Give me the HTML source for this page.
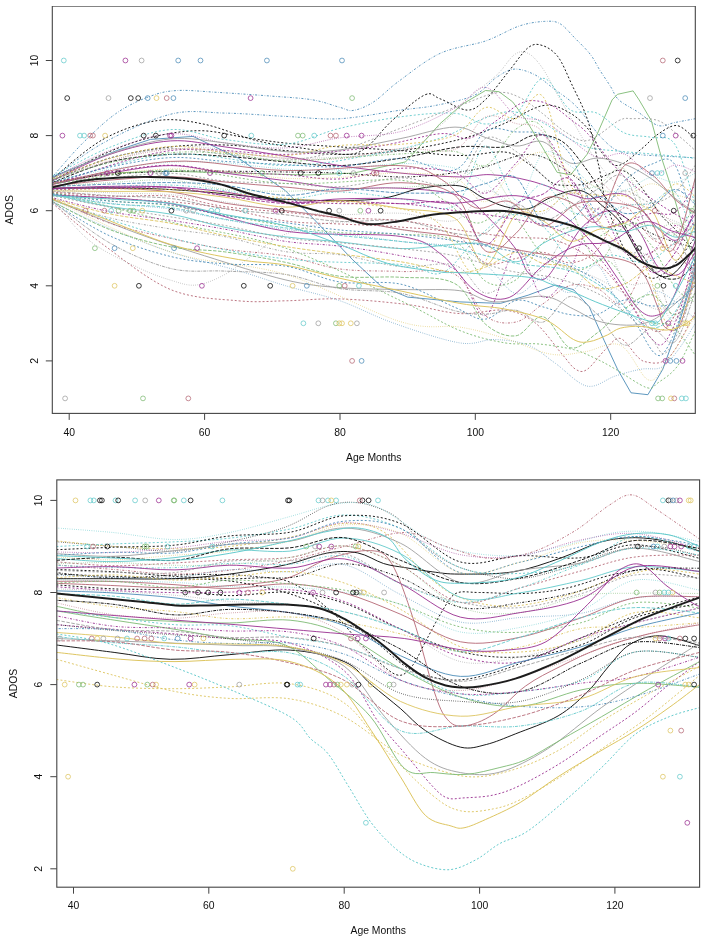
<!DOCTYPE html><html><head><meta charset="utf-8"><style>html,body{margin:0;padding:0;background:#fff;}svg{display:block}.t{font-family:"Liberation Sans",sans-serif;font-size:10.4px;fill:#111}</style></head><body>
<svg width="706" height="941" viewBox="0 0 706 941">
<rect width="706" height="941" fill="#fff"/>
<filter id="bl" x="0" y="0" width="1" height="1"><feGaussianBlur stdDeviation="0.5"/></filter>
<g filter="url(#bl)">
<clipPath id="c1"><rect x="52.3" y="6.1" width="643.0" height="407.3"/></clipPath>
<g clip-path="url(#c1)" fill="none" stroke-linecap="butt" stroke-linejoin="round">
<path d="M52.3 176.9C57.4 171.3 72.0 153.7 82.7 143.1C93.5 132.5 105.3 120.9 116.6 113.1C127.9 105.2 140.3 99.9 150.4 96.2C160.6 92.4 166.2 91.2 177.5 90.5C188.8 89.9 202.3 91.5 218.1 92.4C233.9 93.4 256.5 94.9 272.3 96.2C288.1 97.4 301.6 98.0 312.9 99.9C324.2 101.8 333.2 105.7 340.0 107.4C346.7 109.2 347.9 111.4 353.5 110.4C359.1 109.5 366.2 106.7 373.8 101.8C381.4 96.9 387.8 89.2 398.9 81.2C409.9 73.1 425.7 60.1 440.1 53.4C454.6 46.7 472.3 45.5 485.5 41.0C498.7 36.4 509.5 29.2 519.3 26.0C529.2 22.7 537.6 21.8 544.4 21.4C551.2 21.1 554.8 20.8 560.0 23.7C565.1 26.6 570.4 33.6 575.5 38.7C580.6 43.9 586.4 49.2 590.4 54.5C594.5 59.7 596.5 64.9 599.9 70.3C603.3 75.6 607.6 81.8 610.7 86.8C613.9 91.7 614.3 95.7 618.8 99.9C623.4 104.1 631.3 107.7 637.8 111.9C644.3 116.2 651.9 123.7 658.1 125.5C664.3 127.2 668.8 123.6 675.0 122.5C681.2 121.3 691.9 119.3 695.3 118.7" stroke="#4b8bb7" stroke-width="0.90" stroke-dasharray="0.6,1.6,2,1.6"/>
<path d="M52.3 178.8C60.7 172.8 83.3 153.9 103.0 143.1C122.8 132.3 150.4 119.2 170.7 114.2C191.0 109.2 205.7 112.7 224.9 113.1C244.1 113.4 266.6 115.5 285.8 116.4C305.0 117.4 320.8 119.8 340.0 118.7C359.1 117.6 385.1 112.3 400.9 110.1C416.7 107.9 422.5 108.0 434.7 105.6C446.9 103.1 463.6 100.2 474.0 95.4C484.4 90.7 490.2 81.4 497.0 77.0C503.8 72.6 508.3 69.5 514.6 69.1C520.9 68.8 528.5 71.6 534.9 74.8C541.3 78.0 546.3 83.0 553.2 88.3C560.1 93.5 568.4 98.4 576.2 106.3C584.0 114.3 593.0 128.6 599.9 136.0C606.8 143.4 611.2 147.6 617.5 150.6C623.8 153.7 631.0 153.5 637.8 154.4C644.6 155.3 648.5 155.3 658.1 155.9C667.7 156.4 689.1 157.4 695.3 157.8" stroke="#4b8bb7" stroke-width="0.90" stroke-dasharray="0.6,1.6,2,1.6"/>
<path d="M52.3 178.8C60.7 172.2 85.6 149.1 103.0 139.4C120.5 129.7 140.3 123.1 157.2 120.6C174.1 118.1 187.7 120.9 204.6 124.3C221.5 127.8 241.8 137.2 258.7 141.2C275.7 145.3 291.4 146.6 306.1 148.7C320.8 150.9 336.6 154.7 346.7 154.4C356.9 154.1 359.6 152.4 367.0 146.9C374.5 141.4 381.8 130.0 391.4 121.3C401.0 112.7 416.4 98.8 424.6 95.0C432.7 91.3 433.0 96.3 440.1 98.8C447.2 101.3 459.7 109.9 467.2 110.1C474.8 110.2 478.7 105.8 485.5 99.6C492.3 93.3 500.7 81.2 507.8 72.5C514.9 63.9 522.4 52.2 528.1 47.7C533.9 43.2 537.4 44.0 542.4 45.5C547.3 47.0 553.1 50.4 557.9 56.7C562.8 63.1 566.5 73.2 571.5 83.8C576.4 94.4 583.1 106.2 587.7 120.2C592.3 134.2 596.3 154.7 599.2 167.9C602.1 181.1 601.8 187.3 605.3 199.4C608.8 211.6 615.3 230.1 620.2 240.7C625.0 251.4 629.2 257.0 634.4 263.3C639.6 269.5 645.1 277.7 651.3 278.3C657.5 278.9 664.3 273.9 671.6 267.0C679.0 260.1 691.4 242.0 695.3 237.0" stroke="#000000" stroke-width="0.90" stroke-dasharray="2,2"/>
<path d="M52.3 180.7C61.9 176.9 90.1 163.8 109.8 158.1C129.6 152.5 151.6 149.1 170.7 146.9C189.9 144.7 205.7 144.4 224.9 145.0C244.1 145.6 266.6 149.1 285.8 150.6C305.0 152.2 320.8 154.4 340.0 154.4C359.1 154.4 380.9 153.1 400.9 150.6C420.8 148.1 442.8 143.7 459.8 139.4C476.7 135.0 488.5 130.0 502.4 124.3C516.3 118.7 531.7 107.4 543.0 105.6C554.3 103.7 562.2 108.7 570.1 113.1C578.0 117.5 585.3 125.5 590.4 131.8C595.5 138.2 596.1 145.4 600.6 151.0C605.1 156.6 610.7 166.0 617.5 165.6C624.3 165.3 634.4 154.4 641.2 149.1C647.9 143.9 652.2 138.0 658.1 134.1C664.0 130.2 670.7 125.2 676.4 125.5C682.0 125.7 688.8 133.6 691.9 135.6C695.1 137.6 694.8 137.2 695.3 137.5" stroke="#000000" stroke-width="0.90" stroke-dasharray="2,2"/>
<path d="M52.3 180.7C60.7 176.3 86.7 161.6 103.0 154.4C119.4 147.2 134.3 141.4 150.4 137.5C166.6 133.5 184.0 130.7 199.8 130.7C215.6 130.7 230.9 135.4 245.2 137.5C259.5 139.5 270.0 141.5 285.8 143.1C301.6 144.7 320.8 145.6 340.0 146.9C359.1 148.1 380.9 149.2 400.9 150.6C420.8 152.1 442.4 155.3 459.8 155.5C477.1 155.8 493.7 150.8 505.1 152.1C516.5 153.4 520.6 158.4 528.1 163.4C535.7 168.3 544.8 178.2 550.5 181.8C556.1 185.4 556.3 184.8 562.0 185.2C567.6 185.5 576.8 185.8 584.3 184.0C591.9 182.3 601.4 177.0 607.3 174.7C613.3 172.3 616.0 169.8 620.2 170.1C624.4 170.5 628.1 172.6 632.4 176.5C636.7 180.4 641.1 186.9 645.9 193.4C650.8 199.9 656.6 209.6 661.5 215.6C666.3 221.5 671.1 224.8 675.0 229.1C679.0 233.4 681.8 237.3 685.2 241.1C688.6 244.9 693.6 250.2 695.3 252.0" stroke="#000000" stroke-width="0.90" stroke-dasharray="2,2"/>
<path d="M52.3 182.5C61.9 179.1 90.1 166.6 109.8 161.9C129.6 157.2 151.6 155.3 170.7 154.4C189.9 153.4 205.7 155.0 224.9 156.3C244.1 157.5 266.6 160.3 285.8 161.9C305.0 163.4 320.8 166.3 340.0 165.6C359.1 165.0 380.9 161.3 400.9 158.1C420.8 155.0 442.4 148.7 459.8 146.9C477.1 145.0 493.3 148.7 505.1 146.9C517.0 145.1 523.5 137.8 530.8 136.0C538.2 134.2 543.1 134.5 549.1 136.0C555.1 137.5 560.4 139.3 566.7 145.0C573.0 150.7 581.4 162.6 587.0 170.1C592.7 177.7 595.0 182.5 600.6 190.4C606.1 198.4 614.0 208.2 620.2 217.8C626.4 227.5 631.5 238.8 637.8 248.2C644.1 257.7 651.3 269.5 658.1 274.5C664.9 279.5 672.2 280.2 678.4 278.3C684.6 276.4 692.5 265.8 695.3 263.3" stroke="#000000" stroke-width="0.90" stroke-dasharray="3.5,1.5"/>
<path d="M52.3 184.4L103.0 173.1L170.7 171.3L238.4 173.1L306.1 175.0L353.5 173.1L405.6 161.9L440.1 123.6L462.5 104.1L485.5 90.5L499.0 91.7L512.6 101.8L526.1 120.2L542.4 147.2L557.2 172.4L570.8 174.7L587.0 154.4L597.2 134.1L612.1 99.9L617.5 94.3L633.1 90.9L639.1 99.9L651.3 120.6L661.5 157.8L671.6 188.5L680.4 219.0L688.6 244.5L695.3 263.3" stroke="#7dba73" stroke-width="0.90"/>
<path d="M52.3 176.9L116.6 150.6L150.4 139.4L193.1 136.4L238.4 158.1L285.1 190.4L312.9 218.2L352.8 259.9L380.6 285.8L407.6 297.1L459.8 301.9L500.4 303.4L528.1 295.2L555.2 285.0L573.5 289.6L589.1 306.5L604.0 340.2L617.5 369.2L631.0 392.8L647.9 394.7L662.8 369.2L676.4 331.6L688.6 292.6L695.3 267.0" stroke="#4b8bb7" stroke-width="0.90"/>
<path d="M52.3 199.4C66.4 205.1 111.5 223.8 136.9 233.2C162.3 242.6 179.9 248.0 204.6 255.8C229.3 263.5 262.6 274.5 285.1 279.8C307.7 285.1 319.5 286.1 340.0 287.7C360.4 289.3 387.7 289.1 407.6 289.6C427.6 290.1 445.3 288.6 459.8 290.7C474.2 292.7 480.3 301.0 494.3 301.9C508.3 302.9 530.5 295.1 543.7 296.3C556.9 297.5 564.8 305.1 573.5 309.1C582.2 313.1 588.0 317.7 595.8 320.3C603.6 323.0 612.1 324.4 620.2 324.9C628.3 325.4 637.1 325.5 644.6 323.3C652.0 321.2 656.4 318.3 664.9 312.1C673.3 305.8 690.3 290.2 695.3 285.8" stroke="#9e9e9e" stroke-width="0.90"/>
<path d="M52.3 203.2C60.7 210.1 83.3 230.1 103.0 244.5C122.8 258.9 148.2 280.2 170.7 289.6C193.3 298.9 219.2 298.9 238.4 300.8C257.6 302.7 268.9 301.1 285.8 300.8C302.7 300.5 319.7 298.3 340.0 298.9C360.3 299.6 387.7 302.1 407.6 304.6C427.6 307.0 443.5 312.6 459.8 313.6C476.0 314.5 492.6 308.7 505.1 310.2C517.6 311.7 525.4 315.3 534.9 322.6C544.4 329.9 555.2 346.4 562.0 354.1C568.8 361.9 571.3 366.6 575.5 369.2C579.7 371.7 582.1 372.8 587.0 369.5C592.0 366.3 599.8 354.8 605.3 349.6C610.8 344.4 614.8 337.1 620.2 338.4C625.6 339.6 633.4 353.2 637.8 357.1C642.2 361.1 642.6 361.2 646.6 362.0C650.5 362.8 656.7 364.1 661.5 362.0C666.2 360.0 669.4 358.0 675.0 349.6C680.7 341.3 691.9 318.3 695.3 312.1" stroke="#b46774" stroke-width="0.90" stroke-dasharray="2,2"/>
<path d="M52.3 191.9C72.0 196.9 131.8 212.6 170.7 222.0C209.7 231.4 247.5 235.1 285.8 248.2C324.2 261.4 371.9 287.1 400.9 300.8C429.9 314.5 442.4 323.5 459.8 330.5C477.1 337.5 491.9 340.6 505.1 342.9C518.3 345.1 527.6 342.9 539.0 344.0C550.4 345.1 564.0 347.2 573.5 349.6C583.0 352.1 588.8 355.4 595.8 358.6C602.8 361.9 607.0 364.3 615.5 369.2C623.9 374.0 639.5 385.3 646.6 387.6C653.7 389.8 652.9 386.3 658.1 382.7C663.3 379.0 671.5 374.4 677.7 365.8C683.9 357.1 692.4 336.7 695.3 330.9" stroke="#7dba73" stroke-width="0.90" stroke-dasharray="2,2"/>
<path d="M52.3 201.3C60.7 205.4 83.3 217.3 103.0 225.7C122.8 234.2 148.2 244.5 170.7 252.0C193.3 259.5 219.2 265.1 238.4 270.8C257.6 276.4 268.9 280.8 285.8 285.8C302.7 290.8 321.9 294.6 340.0 300.8C358.0 307.1 374.1 316.3 394.1 323.3C414.1 330.4 443.1 340.2 459.8 342.9C476.5 345.6 482.9 339.1 494.3 339.5C505.7 339.9 518.0 341.2 528.1 345.1C538.3 349.1 545.4 356.3 555.2 363.2C565.0 370.0 577.0 383.9 587.0 386.1C597.1 388.2 606.4 378.7 615.5 375.9C624.5 373.1 633.5 370.6 641.2 369.2C648.9 367.7 655.3 370.5 661.5 367.3C667.7 364.0 672.8 357.0 678.4 349.6C684.1 342.3 692.5 327.7 695.3 323.3" stroke="#4b8bb7" stroke-width="0.90" stroke-dasharray="0.6,1.6"/>
<path d="M52.3 199.4C72.0 208.2 131.8 239.5 170.7 252.0C209.7 264.5 247.5 262.9 285.8 274.5C324.2 286.2 371.9 313.1 400.9 321.8C429.9 330.6 442.4 324.4 459.8 327.1C477.1 329.9 490.0 333.9 505.1 338.4C520.2 342.9 537.3 351.9 550.5 354.1C563.7 356.4 572.7 353.4 584.3 351.9C595.9 350.4 609.6 340.5 620.2 345.1C630.8 349.8 640.5 376.4 647.9 379.7C655.4 382.9 657.0 375.3 664.9 364.7C672.8 354.0 690.3 324.0 695.3 315.8" stroke="#ddc45f" stroke-width="0.90" stroke-dasharray="0.6,1.6"/>
<path d="M52.3 184.4C61.9 182.5 90.1 176.3 109.8 173.1C129.6 170.0 151.6 165.6 170.7 165.6C189.9 165.6 205.7 170.6 224.9 173.1C244.1 175.7 266.6 178.2 285.8 180.7C305.0 183.2 320.8 186.9 340.0 188.2C359.1 189.4 380.9 186.9 400.9 188.2C420.8 189.4 445.1 190.7 459.8 195.7C474.4 200.7 479.4 209.1 488.9 218.2C498.4 227.3 510.1 241.1 516.6 250.1C523.2 259.2 523.6 267.8 528.1 272.7C532.7 277.5 538.9 280.9 543.7 279.4C548.6 277.9 553.4 268.5 557.2 263.6C561.1 258.8 562.3 256.4 566.7 250.1C571.1 243.8 576.3 232.3 583.6 225.7C591.0 219.1 601.7 210.1 610.7 210.7C619.7 211.3 629.9 220.1 637.8 229.5C645.7 238.9 651.3 259.5 658.1 267.0C664.9 274.5 672.2 277.0 678.4 274.5C684.6 272.0 692.5 255.8 695.3 252.0" stroke="#992e90" stroke-width="0.90"/>
<path d="M52.3 180.7C61.9 176.3 90.1 161.0 109.8 154.4C129.6 147.7 151.6 142.1 170.7 140.9C189.9 139.6 205.7 144.3 224.9 146.9C244.1 149.4 266.6 153.1 285.8 156.3C305.0 159.4 320.8 162.8 340.0 165.6C359.1 168.5 380.9 171.3 400.9 173.1C420.8 175.0 444.8 176.7 459.8 176.9C474.8 177.2 479.3 174.0 490.9 174.7C502.5 175.3 515.7 177.2 529.5 180.7C543.3 184.1 563.3 192.3 573.5 195.3C583.6 198.3 583.4 199.0 590.4 198.7C597.4 198.4 608.5 193.4 615.5 193.4C622.5 193.4 626.7 194.4 632.4 198.7C638.0 202.9 643.7 212.8 649.3 219.0C654.9 225.2 661.4 232.5 666.2 235.9C671.1 239.2 674.1 242.1 678.4 239.2C682.7 236.4 689.1 223.1 691.9 219.0C694.8 214.8 694.8 215.2 695.3 214.5" stroke="#992e90" stroke-width="0.90"/>
<path d="M52.3 188.2C61.9 188.2 90.1 187.5 109.8 188.2C129.6 188.8 151.6 189.4 170.7 191.9C189.9 194.4 205.7 200.1 224.9 203.2C244.1 206.3 266.6 208.2 285.8 210.7C305.0 213.2 320.8 215.1 340.0 218.2C359.1 221.3 380.9 226.3 400.9 229.5C420.8 232.6 441.7 233.9 459.8 237.0C477.8 240.1 493.1 245.1 509.2 248.2C525.3 251.4 541.9 254.5 556.6 255.8C571.2 257.0 583.6 253.9 597.2 255.8C610.7 257.6 627.8 258.6 637.8 267.0C647.8 275.4 653.0 296.2 657.4 306.1C661.8 316.0 660.8 322.7 664.2 326.4C667.6 330.0 673.8 332.5 677.7 328.2C681.7 324.0 685.0 310.4 687.9 300.8C690.8 291.2 694.1 275.8 695.3 270.8" stroke="#b46774" stroke-width="0.90"/>
<path d="M52.3 180.7C61.9 176.9 90.1 163.4 109.8 158.1C129.6 152.8 151.6 149.4 170.7 148.7C189.9 148.1 205.7 152.5 224.9 154.4C244.1 156.3 266.6 160.6 285.8 160.0C305.0 159.4 320.8 155.9 340.0 150.6C359.1 145.3 380.9 135.6 400.9 128.1C420.8 120.6 443.8 111.4 459.8 105.6C475.8 99.7 487.1 94.2 497.0 92.8C506.9 91.4 511.8 93.9 519.3 97.3C526.9 100.7 534.8 107.8 542.4 113.4C549.9 119.1 557.1 127.0 564.7 131.5C572.2 136.0 578.7 142.3 587.7 140.5C596.7 138.7 611.4 124.2 618.8 120.6C626.3 117.0 625.8 118.7 632.4 118.7C638.9 118.7 650.4 117.8 658.1 120.6C665.8 123.4 672.2 130.6 678.4 135.6C684.6 140.6 692.5 148.1 695.3 150.6" stroke="#9e9e9e" stroke-width="0.90" stroke-dasharray="2,2"/>
<path d="M52.3 180.7C72.0 175.0 131.8 150.6 170.7 146.9C209.7 143.1 247.5 157.5 285.8 158.1C324.2 158.8 374.9 156.3 400.9 150.6C426.8 145.0 430.2 133.1 441.5 124.3C452.8 115.6 459.3 106.3 468.6 98.1C477.8 89.8 489.3 82.0 497.0 74.8C504.7 67.5 509.4 58.1 514.6 54.5C519.8 50.9 523.5 51.1 528.1 53.4C532.8 55.6 537.4 61.0 542.4 68.0C547.3 75.0 552.3 85.6 557.9 95.4C563.6 105.2 569.7 115.9 576.2 127.0C582.7 138.0 589.2 151.1 597.2 161.9C605.2 172.7 615.2 183.8 624.3 191.9C633.3 200.1 639.5 204.4 651.3 210.7C663.2 217.0 688.0 226.3 695.3 229.5" stroke="#9e9e9e" stroke-width="0.90" stroke-dasharray="0.6,1.6"/>
<path d="M52.3 182.5C72.0 177.8 131.8 157.2 170.7 154.4C209.7 151.6 252.0 165.6 285.8 165.6C319.7 165.6 348.1 158.9 373.8 154.4C399.5 149.8 423.4 143.5 440.1 138.2C456.8 132.9 463.4 126.8 474.0 122.5C484.6 118.1 495.9 113.8 503.8 112.3C511.7 110.8 514.9 111.8 521.4 113.4C527.8 115.1 535.1 118.7 542.4 122.5C549.6 126.2 557.1 131.8 564.7 136.0C572.2 140.1 579.0 144.7 587.7 147.2C596.4 149.7 604.6 149.7 616.8 151.0C629.0 152.2 647.4 153.5 660.8 154.8C674.2 156.0 691.3 157.9 697.4 158.5" stroke="#63c9cb" stroke-width="0.90" stroke-dasharray="2,2"/>
<path d="M52.3 184.4C72.0 178.8 131.8 155.6 170.7 150.6C209.7 145.6 252.0 155.0 285.8 154.4C319.7 153.7 348.1 150.3 373.8 146.9C399.5 143.4 424.2 135.2 440.1 133.7C456.0 132.3 459.8 140.5 469.2 138.2C478.7 136.0 488.7 125.9 497.0 120.2C505.3 114.5 513.0 107.3 519.3 104.1C525.7 100.8 529.3 100.3 534.9 100.7C540.5 101.1 547.1 103.1 553.2 106.3C559.3 109.6 565.7 115.6 571.5 120.2C577.2 124.8 578.9 124.3 587.7 133.7C596.5 143.1 612.5 165.0 624.3 176.5C636.0 188.1 646.3 195.0 658.1 203.2C669.9 211.4 689.1 222.0 695.3 225.7" stroke="#992e90" stroke-width="0.90" stroke-dasharray="2,2"/>
<path d="M52.3 182.5C60.7 181.3 83.3 176.9 103.0 175.0C122.8 173.1 148.2 171.9 170.7 171.3C193.3 170.6 219.2 171.1 238.4 171.3C257.6 171.4 268.9 171.7 285.8 172.0C302.7 172.3 319.7 172.3 340.0 173.1C360.3 174.0 385.1 177.5 407.6 176.9C430.2 176.3 455.0 173.2 475.3 169.4C495.6 165.6 513.7 153.7 529.5 154.4C545.3 155.0 556.6 164.4 570.1 173.1C583.6 181.9 597.2 196.9 610.7 206.9C624.3 217.0 637.2 226.3 651.3 233.2C665.4 240.1 688.0 245.7 695.3 248.2" stroke="#000000" stroke-width="0.90" stroke-dasharray="0.6,1.6,2,1.6"/>
<path d="M52.3 188.2C66.4 188.2 111.5 187.5 136.9 188.2C162.3 188.8 179.8 190.0 204.6 191.9C229.4 193.8 257.6 198.2 285.8 199.4C314.0 200.7 351.2 201.3 373.8 199.4C396.4 197.6 406.9 190.4 421.2 188.2C435.5 185.9 449.5 184.4 459.8 185.9C470.0 187.5 475.2 194.1 482.8 197.6C490.3 201.0 497.6 204.7 505.1 206.6C512.7 208.4 520.6 210.3 528.1 208.8C535.7 207.3 542.9 200.6 550.5 197.6C558.0 194.5 567.4 191.2 573.5 190.4C579.6 189.7 582.5 190.7 587.0 193.1C591.5 195.4 595.0 199.4 600.6 204.3C606.1 209.2 613.7 213.7 620.2 222.3C626.7 231.0 635.1 248.6 639.8 256.1C644.6 263.6 644.9 264.0 648.6 267.4C652.3 270.8 657.7 275.7 662.2 276.4C666.7 277.2 670.2 276.8 675.7 271.9C681.2 267.0 692.1 251.3 695.3 247.1" stroke="#000000" stroke-width="0.90"/>
<path d="M52.3 199.4C58.5 206.3 75.4 229.5 89.5 240.7C103.6 252.0 123.4 260.5 136.9 267.0C150.4 273.6 160.8 277.2 170.7 280.2C180.7 283.2 187.4 286.0 196.5 285.0C205.5 284.1 215.6 279.4 224.9 274.5C234.1 269.7 241.8 262.5 252.0 255.8C262.1 249.0 271.1 239.6 285.8 234.0C300.5 228.3 320.8 222.7 340.0 222.0C359.1 221.2 381.7 226.3 400.9 229.5C420.1 232.6 437.0 237.6 455.0 240.7C473.1 243.9 492.3 244.5 509.2 248.2C526.1 252.0 541.9 258.3 556.6 263.3C571.2 268.3 583.6 272.0 597.2 278.3C610.7 284.5 626.5 295.8 637.8 300.8C649.1 305.8 655.3 312.1 664.9 308.3C674.5 304.6 690.3 283.3 695.3 278.3" stroke="#9e9e9e" stroke-width="0.90" stroke-dasharray="0.6,1.6"/>
<path d="M52.3 176.3C61.9 171.5 90.1 155.1 109.8 147.3C129.6 139.6 151.6 130.9 170.7 129.6C189.9 128.3 205.7 137.1 224.9 139.5C244.1 142.0 266.6 146.1 285.8 144.2C305.0 142.4 320.8 132.8 340.0 128.3C359.1 123.7 381.7 119.3 400.9 116.8C420.1 114.3 440.9 112.1 455.0 113.3C469.1 114.5 475.3 123.9 485.5 124.0C495.6 124.1 506.4 121.4 516.0 113.8C525.5 106.1 534.0 78.9 543.0 78.3C552.1 77.6 561.1 103.9 570.1 109.7C579.1 115.5 588.2 109.3 597.2 113.2C606.2 117.1 615.2 128.9 624.3 132.9C633.3 136.9 642.9 135.4 651.3 137.4C659.8 139.3 667.7 133.3 675.0 144.6C682.4 155.9 691.9 195.0 695.3 205.1" stroke="#63c9cb" stroke-width="0.90" stroke-dasharray="2,2"/>
<path d="M52.3 177.8C61.9 173.3 90.1 157.9 109.8 150.5C129.6 143.2 151.6 135.1 170.7 133.8C189.9 132.5 205.7 140.6 224.9 142.9C244.1 145.3 266.6 148.8 285.8 147.9C305.0 147.0 320.8 140.5 340.0 137.8C359.1 135.1 381.7 136.5 400.9 131.5C420.1 126.6 440.9 115.5 455.0 108.1C469.1 100.8 475.3 86.2 485.5 87.4C495.6 88.6 506.4 109.7 516.0 115.3C525.5 121.0 534.0 117.2 543.0 121.2C552.1 125.2 561.1 133.3 570.1 139.2C579.1 145.2 588.2 154.6 597.2 157.1C606.2 159.6 615.2 151.1 624.3 154.1C633.3 157.1 642.9 173.2 651.3 175.0C659.8 176.8 667.7 165.6 675.0 165.1C682.4 164.6 691.9 170.8 695.3 171.9" stroke="#992e90" stroke-width="0.90" stroke-dasharray="0.6,1.6"/>
<path d="M52.3 178.2C61.9 174.1 90.1 160.3 109.8 153.8C129.6 147.2 151.6 140.7 170.7 138.9C189.9 137.0 205.7 140.8 224.9 142.9C244.1 145.0 266.6 150.5 285.8 151.7C305.0 152.8 320.8 152.1 340.0 149.9C359.1 147.7 381.7 142.3 400.9 138.5C420.1 134.7 440.9 127.2 455.0 127.1C469.1 126.9 475.3 134.4 485.5 137.5C495.6 140.7 506.4 145.3 516.0 146.0C525.5 146.7 534.0 138.9 543.0 141.7C552.1 144.6 561.1 160.3 570.1 163.0C579.1 165.8 588.2 158.0 597.2 158.1C606.2 158.3 615.2 160.6 624.3 164.1C633.3 167.5 642.9 173.0 651.3 178.7C659.8 184.4 667.7 192.5 675.0 198.2C682.4 203.9 691.9 210.3 695.3 212.7" stroke="#9e9e9e" stroke-width="0.90"/>
<path d="M52.3 178.6C61.9 175.3 90.1 164.0 109.8 158.7C129.6 153.3 151.6 147.5 170.7 146.5C189.9 145.4 205.7 151.0 224.9 152.5C244.1 154.1 266.6 156.8 285.8 155.6C305.0 154.4 320.8 147.4 340.0 145.5C359.1 143.6 381.7 146.0 400.9 144.3C420.1 142.5 440.9 141.2 455.0 135.1C469.1 129.0 475.3 110.2 485.5 107.5C495.6 104.8 506.4 120.6 516.0 118.7C525.5 116.9 534.0 85.6 543.0 96.6C552.1 107.6 561.1 168.3 570.1 184.7C579.1 201.1 588.2 193.2 597.2 195.0C606.2 196.9 615.2 193.8 624.3 195.9C633.3 197.9 642.9 209.3 651.3 207.3C659.8 205.3 667.7 185.8 675.0 184.0C682.4 182.2 691.9 194.5 695.3 196.6" stroke="#ddc45f" stroke-width="0.90" stroke-dasharray="2,2"/>
<path d="M52.3 179.6C61.9 176.5 90.1 165.8 109.8 160.8C129.6 155.7 151.6 150.7 170.7 149.2C189.9 147.7 205.7 150.3 224.9 151.8C244.1 153.4 266.6 157.2 285.8 158.3C305.0 159.5 320.8 160.3 340.0 158.6C359.1 157.0 381.7 150.0 400.9 148.5C420.1 146.9 440.9 154.5 455.0 149.3C469.1 144.1 475.3 121.3 485.5 117.0C495.6 112.7 506.4 120.9 516.0 123.5C525.5 126.1 534.0 121.2 543.0 132.6C552.1 144.0 561.1 183.7 570.1 191.7C579.1 199.8 588.2 179.3 597.2 181.1C606.2 183.0 615.2 198.8 624.3 202.9C633.3 207.0 642.9 201.9 651.3 205.6C659.8 209.4 667.7 219.4 675.0 225.4C682.4 231.5 691.9 239.1 695.3 241.8" stroke="#b46774" stroke-width="0.90" stroke-dasharray="0.6,1.6"/>
<path d="M52.3 179.3C61.9 176.5 90.1 167.2 109.8 162.8C129.6 158.4 151.6 154.2 170.7 152.7C189.9 151.1 205.7 152.1 224.9 153.5C244.1 154.9 266.6 160.3 285.8 161.0C305.0 161.7 320.8 159.0 340.0 157.9C359.1 156.7 381.7 155.0 400.9 153.9C420.1 152.9 440.9 149.6 455.0 151.5C469.1 153.5 475.3 169.5 485.5 165.7C495.6 162.0 506.4 135.3 516.0 129.1C525.5 122.8 534.0 115.8 543.0 128.4C552.1 141.0 561.1 182.5 570.1 204.5C579.1 226.5 588.2 256.7 597.2 260.3C606.2 263.9 615.2 231.9 624.3 226.2C633.3 220.5 642.9 224.6 651.3 226.0C659.8 227.4 667.7 238.3 675.0 234.6C682.4 230.9 691.9 209.1 695.3 204.0" stroke="#7dba73" stroke-width="0.90" stroke-dasharray="0.6,1.6,2,1.6"/>
<path d="M52.3 182.7C61.9 180.1 90.1 171.3 109.8 167.1C129.6 163.0 151.6 158.6 170.7 157.6C189.9 156.7 205.7 160.2 224.9 161.4C244.1 162.6 266.6 163.7 285.8 164.6C305.0 165.5 320.8 167.6 340.0 166.6C359.1 165.7 381.7 158.2 400.9 158.7C420.1 159.2 440.9 174.4 455.0 169.8C469.1 165.2 475.3 137.5 485.5 131.2C495.6 124.8 506.4 131.3 516.0 131.9C525.5 132.4 534.0 130.8 543.0 134.5C552.1 138.2 561.1 141.3 570.1 154.3C579.1 167.4 588.2 208.5 597.2 212.9C606.2 217.3 615.2 189.0 624.3 180.9C633.3 172.8 642.9 167.0 651.3 164.3C659.8 161.7 667.7 153.4 675.0 164.8C682.4 176.3 691.9 221.7 695.3 233.0" stroke="#4b8bb7" stroke-width="0.90" stroke-dasharray="2,2"/>
<path d="M52.3 181.2C61.9 179.2 90.1 172.6 109.8 169.4C129.6 166.3 151.6 163.3 170.7 162.2C189.9 161.1 205.7 161.8 224.9 162.9C244.1 164.1 266.6 168.0 285.8 169.1C305.0 170.3 320.8 170.6 340.0 169.6C359.1 168.7 381.7 163.7 400.9 163.5C420.1 163.3 440.9 165.0 455.0 168.2C469.1 171.5 475.3 176.6 485.5 182.9C495.6 189.3 506.4 211.2 516.0 206.3C525.5 201.3 534.0 160.0 543.0 153.3C552.1 146.5 561.1 159.9 570.1 165.8C579.1 171.6 588.2 184.4 597.2 188.5C606.2 192.6 615.2 192.1 624.3 190.3C633.3 188.4 642.9 178.7 651.3 177.3C659.8 176.0 667.7 182.9 675.0 182.2C682.4 181.4 691.9 174.6 695.3 173.0" stroke="#63c9cb" stroke-width="0.90" stroke-dasharray="0.6,1.6"/>
<path d="M52.3 182.8C61.9 180.9 90.1 174.8 109.8 171.9C129.6 169.0 151.6 165.2 170.7 165.2C189.9 165.2 205.7 170.1 224.9 171.7C244.1 173.3 266.6 173.5 285.8 174.7C305.0 175.9 320.8 180.0 340.0 178.9C359.1 177.9 381.7 169.3 400.9 168.3C420.1 167.3 440.9 168.8 455.0 172.9C469.1 177.1 475.3 194.8 485.5 193.2C495.6 191.6 506.4 172.9 516.0 163.2C525.5 153.5 534.0 132.3 543.0 135.0C552.1 137.7 561.1 164.3 570.1 179.3C579.1 194.2 588.2 217.6 597.2 224.7C606.2 231.7 615.2 223.5 624.3 221.6C633.3 219.7 642.9 215.0 651.3 213.4C659.8 211.9 667.7 217.1 675.0 212.3C682.4 207.5 691.9 189.1 695.3 184.4" stroke="#992e90" stroke-width="0.90" stroke-dasharray="2,2"/>
<path d="M52.3 182.8C61.9 181.4 90.1 176.5 109.8 174.2C129.6 171.8 151.6 169.3 170.7 168.9C189.9 168.4 205.7 169.8 224.9 171.4C244.1 172.9 266.6 177.3 285.8 178.3C305.0 179.3 320.8 178.2 340.0 177.3C359.1 176.4 381.7 172.9 400.9 173.1C420.1 173.2 440.9 173.4 455.0 178.2C469.1 182.9 475.3 203.6 485.5 201.6C495.6 199.5 506.4 174.1 516.0 165.9C525.5 157.6 534.0 151.3 543.0 152.3C552.1 153.3 561.1 166.2 570.1 172.0C579.1 177.9 588.2 183.5 597.2 187.5C606.2 191.4 615.2 196.4 624.3 195.8C633.3 195.1 642.9 184.0 651.3 183.8C659.8 183.5 667.7 191.3 675.0 194.1C682.4 196.9 691.9 199.4 695.3 200.5" stroke="#ddc45f" stroke-width="0.90" stroke-dasharray="0.6,1.6"/>
<path d="M52.3 186.3C61.9 185.0 90.1 180.5 109.8 178.3C129.6 176.1 151.6 172.9 170.7 173.3C189.9 173.8 205.7 179.4 224.9 181.0C244.1 182.7 266.6 182.6 285.8 183.5C305.0 184.4 320.8 187.6 340.0 186.7C359.1 185.7 381.7 178.4 400.9 177.9C420.1 177.4 440.9 190.4 455.0 183.8C469.1 177.2 475.3 143.8 485.5 138.4C495.6 132.9 506.4 145.2 516.0 151.4C525.5 157.5 534.0 167.0 543.0 175.5C552.1 183.9 561.1 196.5 570.1 202.0C579.1 207.6 588.2 210.4 597.2 208.6C606.2 206.7 615.2 192.0 624.3 191.0C633.3 190.0 642.9 202.3 651.3 202.6C659.8 202.8 667.7 198.9 675.0 192.6C682.4 186.4 691.9 169.7 695.3 165.2" stroke="#9e9e9e" stroke-width="0.90" stroke-dasharray="2,2"/>
<path d="M52.3 185.9C61.9 184.9 90.1 181.6 109.8 180.1C129.6 178.6 151.6 176.3 170.7 176.6C189.9 176.9 205.7 180.2 224.9 182.0C244.1 183.7 266.6 185.6 285.8 187.1C305.0 188.7 320.8 191.9 340.0 191.1C359.1 190.4 381.7 182.0 400.9 182.7C420.1 183.4 440.9 184.0 455.0 195.4C469.1 206.8 475.3 244.6 485.5 250.9C495.6 257.2 506.4 241.9 516.0 233.3C525.5 224.7 534.0 204.4 543.0 199.2C552.1 193.9 561.1 198.1 570.1 201.8C579.1 205.6 588.2 227.5 597.2 221.4C606.2 215.4 615.2 173.6 624.3 165.7C633.3 157.8 642.9 168.6 651.3 174.3C659.8 179.9 667.7 192.9 675.0 199.5C682.4 206.0 691.9 211.1 695.3 213.5" stroke="#b46774" stroke-width="0.90"/>
<path d="M52.3 186.5C61.9 185.9 90.1 183.6 109.8 182.6C129.6 181.5 151.6 179.0 170.7 180.1C189.9 181.3 205.7 187.4 224.9 189.2C244.1 191.1 266.6 191.3 285.8 191.2C305.0 191.2 320.8 189.5 340.0 188.9C359.1 188.3 381.7 188.7 400.9 187.5C420.1 186.2 440.9 185.2 455.0 181.7C469.1 178.1 475.3 161.9 485.5 166.0C495.6 170.2 506.4 200.2 516.0 206.5C525.5 212.8 534.0 206.5 543.0 203.9C552.1 201.3 561.1 193.9 570.1 190.9C579.1 188.0 588.2 189.7 597.2 186.0C606.2 182.3 615.2 162.7 624.3 169.0C633.3 175.3 642.9 214.6 651.3 223.7C659.8 232.8 667.7 221.9 675.0 223.4C682.4 225.0 691.9 231.4 695.3 233.1" stroke="#7dba73" stroke-width="0.90" stroke-dasharray="0.6,1.6"/>
<path d="M52.3 186.6C61.9 186.2 90.1 184.8 109.8 184.1C129.6 183.5 151.6 182.4 170.7 182.6C189.9 182.8 205.7 183.2 224.9 185.3C244.1 187.5 266.6 194.8 285.8 195.3C305.0 195.9 320.8 189.2 340.0 188.8C359.1 188.4 381.7 192.4 400.9 192.9C420.1 193.4 440.9 193.4 455.0 191.9C469.1 190.3 475.3 185.9 485.5 183.6C495.6 181.2 506.4 171.0 516.0 177.6C525.5 184.3 534.0 216.2 543.0 223.4C552.1 230.6 561.1 225.3 570.1 220.8C579.1 216.3 588.2 197.7 597.2 196.4C606.2 195.2 615.2 211.6 624.3 213.3C633.3 215.0 642.9 210.7 651.3 206.7C659.8 202.8 667.7 189.8 675.0 189.5C682.4 189.1 691.9 202.0 695.3 204.5" stroke="#4b8bb7" stroke-width="0.90" stroke-dasharray="3.5,1.5"/>
<path d="M52.3 189.2C61.9 188.8 90.1 187.3 109.8 186.6C129.6 185.9 151.6 184.4 170.7 185.1C189.9 185.7 205.7 188.3 224.9 190.6C244.1 192.9 266.6 198.8 285.8 199.0C305.0 199.3 320.8 192.1 340.0 192.1C359.1 192.0 381.7 196.5 400.9 198.8C420.1 201.1 440.9 214.5 455.0 205.7C469.1 196.9 475.3 146.7 485.5 145.9C495.6 145.0 506.4 194.2 516.0 200.6C525.5 207.1 534.0 182.7 543.0 184.3C552.1 186.0 561.1 205.2 570.1 210.5C579.1 215.8 588.2 216.7 597.2 215.9C606.2 215.2 615.2 208.2 624.3 206.0C633.3 203.9 642.9 205.4 651.3 203.0C659.8 200.7 667.7 185.1 675.0 192.0C682.4 198.9 691.9 235.5 695.3 244.2" stroke="#63c9cb" stroke-width="0.90" stroke-dasharray="0.6,1.6,2,1.6"/>
<path d="M52.3 188.4C61.9 188.3 90.1 188.0 109.8 187.8C129.6 187.7 151.6 186.2 170.7 187.5C189.9 188.8 205.7 193.0 224.9 195.7C244.1 198.4 266.6 202.6 285.8 203.6C305.0 204.5 320.8 201.3 340.0 201.3C359.1 201.4 381.7 203.2 400.9 203.7C420.1 204.2 440.9 197.6 455.0 204.5C469.1 211.3 475.3 244.9 485.5 244.9C495.6 244.9 506.4 213.0 516.0 204.6C525.5 196.1 534.0 198.5 543.0 194.1C552.1 189.8 561.1 173.6 570.1 178.7C579.1 183.7 588.2 216.1 597.2 224.5C606.2 232.8 615.2 220.6 624.3 228.5C633.3 236.4 642.9 267.9 651.3 272.0C659.8 276.0 667.7 263.5 675.0 252.9C682.4 242.4 691.9 216.0 695.3 208.7" stroke="#992e90" stroke-width="0.90" stroke-dasharray="3.5,1.5"/>
<path d="M52.3 190.8C61.9 190.9 90.1 191.2 109.8 191.4C129.6 191.6 151.6 190.8 170.7 191.8C189.9 192.8 205.7 194.6 224.9 197.2C244.1 199.7 266.6 206.5 285.8 207.1C305.0 207.6 320.8 200.5 340.0 200.7C359.1 200.9 381.7 205.6 400.9 208.5C420.1 211.4 440.9 208.9 455.0 218.4C469.1 227.8 475.3 265.7 485.5 265.1C495.6 264.5 506.4 222.1 516.0 214.7C525.5 207.3 534.0 216.4 543.0 220.8C552.1 225.3 561.1 239.7 570.1 241.2C579.1 242.7 588.2 232.8 597.2 229.8C606.2 226.8 615.2 226.5 624.3 223.3C633.3 220.1 642.9 204.4 651.3 210.5C659.8 216.7 667.7 258.1 675.0 260.2C682.4 262.4 691.9 229.6 695.3 223.5" stroke="#ddc45f" stroke-width="0.90"/>
<path d="M52.3 189.7C61.9 190.3 90.1 192.0 109.8 192.8C129.6 193.7 151.6 193.2 170.7 194.7C189.9 196.2 205.7 199.1 224.9 201.9C244.1 204.7 266.6 209.3 285.8 211.4C305.0 213.5 320.8 214.3 340.0 214.6C359.1 214.9 381.7 212.3 400.9 213.3C420.1 214.2 440.9 224.1 455.0 220.4C469.1 216.6 475.3 193.4 485.5 191.0C495.6 188.6 506.4 202.0 516.0 205.8C525.5 209.6 534.0 215.8 543.0 213.7C552.1 211.6 561.1 192.0 570.1 193.0C579.1 193.9 588.2 205.1 597.2 219.6C606.2 234.1 615.2 269.1 624.3 280.0C633.3 291.0 642.9 278.4 651.3 285.3C659.8 292.2 667.7 324.6 675.0 321.2C682.4 317.9 691.9 274.4 695.3 265.1" stroke="#9e9e9e" stroke-width="0.90" stroke-dasharray="0.6,1.6"/>
<path d="M52.3 191.1C61.9 191.9 90.1 194.5 109.8 195.7C129.6 196.9 151.6 196.3 170.7 198.5C189.9 200.7 205.7 206.1 224.9 208.8C244.1 211.5 266.6 212.7 285.8 214.8C305.0 216.9 320.8 220.4 340.0 221.4C359.1 222.4 381.7 218.6 400.9 220.6C420.1 222.6 440.9 231.3 455.0 233.4C469.1 235.5 475.3 237.9 485.5 233.1C495.6 228.4 506.4 207.0 516.0 204.9C525.5 202.8 534.0 220.3 543.0 220.6C552.1 221.0 561.1 212.2 570.1 207.0C579.1 201.8 588.2 194.4 597.2 189.4C606.2 184.4 615.2 169.2 624.3 177.0C633.3 184.9 642.9 226.9 651.3 236.3C659.8 245.8 667.7 226.9 675.0 234.0C682.4 241.1 691.9 271.3 695.3 278.8" stroke="#9e9e9e" stroke-width="0.90" stroke-dasharray="3.5,1.5"/>
<path d="M52.3 193.2C61.9 194.1 90.1 197.1 109.8 198.5C129.6 200.0 151.6 200.2 170.7 201.8C189.9 203.4 205.7 205.1 224.9 208.3C244.1 211.5 266.6 218.4 285.8 221.0C305.0 223.6 320.8 223.0 340.0 224.0C359.1 225.0 381.7 225.3 400.9 227.1C420.1 228.8 440.9 228.6 455.0 234.5C469.1 240.5 475.3 259.0 485.5 262.9C495.6 266.9 506.4 260.3 516.0 258.5C525.5 256.7 534.0 251.7 543.0 252.4C552.1 253.1 561.1 263.2 570.1 262.8C579.1 262.3 588.2 259.1 597.2 249.9C606.2 240.7 615.2 209.6 624.3 207.7C633.3 205.8 642.9 232.2 651.3 238.3C659.8 244.4 667.7 247.1 675.0 244.1C682.4 241.2 691.9 224.4 695.3 220.4" stroke="#b46774" stroke-width="0.90" stroke-dasharray="2,2"/>
<path d="M52.3 193.2C61.9 194.5 90.1 198.8 109.8 200.9C129.6 202.9 151.6 203.1 170.7 205.5C189.9 207.9 205.7 211.9 224.9 215.2C244.1 218.6 266.6 222.9 285.8 225.8C305.0 228.7 320.8 231.2 340.0 232.6C359.1 234.1 381.7 232.9 400.9 234.3C420.1 235.6 440.9 233.0 455.0 240.8C469.1 248.6 475.3 274.7 485.5 281.2C495.6 287.7 506.4 286.2 516.0 279.8C525.5 273.4 534.0 251.6 543.0 242.8C552.1 234.1 561.1 228.4 570.1 227.4C579.1 226.3 588.2 237.2 597.2 236.6C606.2 236.0 615.2 222.2 624.3 223.7C633.3 225.1 642.9 234.6 651.3 245.2C659.8 255.8 667.7 277.7 675.0 287.3C682.4 296.9 691.9 300.0 695.3 302.6" stroke="#7dba73" stroke-width="0.90" stroke-dasharray="2,2"/>
<path d="M52.3 193.6C61.9 195.2 90.1 200.6 109.8 203.2C129.6 205.8 151.6 206.3 170.7 209.1C189.9 211.8 205.7 216.3 224.9 219.7C244.1 223.0 266.6 227.0 285.8 229.4C305.0 231.7 320.8 231.7 340.0 233.7C359.1 235.7 381.7 239.2 400.9 241.5C420.1 243.7 440.9 243.4 455.0 247.2C469.1 250.9 475.3 256.5 485.5 264.2C495.6 272.0 506.4 291.4 516.0 293.7C525.5 296.0 534.0 278.3 543.0 278.1C552.1 277.9 561.1 294.5 570.1 292.3C579.1 290.2 588.2 262.1 597.2 265.4C606.2 268.7 615.2 307.7 624.3 311.9C633.3 316.2 642.9 292.7 651.3 291.0C659.8 289.2 667.7 296.5 675.0 301.3C682.4 306.0 691.9 316.4 695.3 319.5" stroke="#4b8bb7" stroke-width="0.90" stroke-dasharray="0.6,1.6"/>
<path d="M52.3 194.4C61.9 196.4 90.1 203.3 109.8 206.6C129.6 209.9 151.6 210.7 170.7 214.1C189.9 217.6 205.7 223.5 224.9 227.3C244.1 231.1 266.6 234.5 285.8 236.9C305.0 239.3 320.8 239.9 340.0 241.9C359.1 243.8 381.7 248.2 400.9 248.6C420.1 249.0 440.9 244.9 455.0 244.3C469.1 243.6 475.3 241.8 485.5 244.8C495.6 247.7 506.4 262.1 516.0 261.9C525.5 261.7 534.0 248.5 543.0 243.4C552.1 238.3 561.1 234.2 570.1 231.4C579.1 228.6 588.2 226.5 597.2 226.6C606.2 226.6 615.2 231.8 624.3 231.6C633.3 231.4 642.9 224.4 651.3 225.3C659.8 226.2 667.7 236.1 675.0 237.1C682.4 238.0 691.9 232.1 695.3 231.1" stroke="#63c9cb" stroke-width="0.90"/>
<path d="M52.3 197.7C61.9 200.0 90.1 207.9 109.8 211.7C129.6 215.5 151.6 217.4 170.7 220.3C189.9 223.3 205.7 225.7 224.9 229.2C244.1 232.8 266.6 238.6 285.8 241.4C305.0 244.2 320.8 243.8 340.0 246.2C359.1 248.6 381.7 251.9 400.9 255.8C420.1 259.7 440.9 259.6 455.0 269.5C469.1 279.4 475.3 318.6 485.5 315.4C495.6 312.1 506.4 252.9 516.0 249.9C525.5 246.9 534.0 294.1 543.0 297.3C552.1 300.4 561.1 283.6 570.1 268.9C579.1 254.2 588.2 212.1 597.2 209.2C606.2 206.4 615.2 244.7 624.3 251.9C633.3 259.1 642.9 256.7 651.3 252.3C659.8 247.9 667.7 227.9 675.0 225.6C682.4 223.3 691.9 236.5 695.3 238.7" stroke="#992e90" stroke-width="0.90" stroke-dasharray="0.6,1.6,2,1.6"/>
<path d="M52.3 198.5C61.9 201.1 90.1 209.8 109.8 213.9C129.6 218.0 151.6 219.7 170.7 223.3C189.9 226.9 205.7 231.6 224.9 235.5C244.1 239.3 266.6 243.5 285.8 246.6C305.0 249.7 320.8 251.4 340.0 254.0C359.1 256.5 381.7 258.8 400.9 261.8C420.1 264.9 440.9 271.4 455.0 272.3C469.1 273.1 475.3 270.4 485.5 267.1C495.6 263.8 506.4 252.9 516.0 252.3C525.5 251.7 534.0 261.0 543.0 263.5C552.1 265.9 561.1 263.1 570.1 267.1C579.1 271.2 588.2 284.8 597.2 287.6C606.2 290.5 615.2 287.6 624.3 284.1C633.3 280.7 642.9 268.4 651.3 267.0C659.8 265.5 667.7 272.6 675.0 275.3C682.4 278.1 691.9 282.3 695.3 283.7" stroke="#ddc45f" stroke-width="0.90" stroke-dasharray="3.5,1.5"/>
<path d="M52.3 199.7C61.9 202.8 90.1 213.0 109.8 217.9C129.6 222.7 151.6 225.8 170.7 229.0C189.9 232.1 205.7 232.9 224.9 236.7C244.1 240.5 266.6 248.7 285.8 251.7C305.0 254.7 320.8 252.3 340.0 254.8C359.1 257.3 381.7 264.9 400.9 266.6C420.1 268.4 440.9 260.8 455.0 265.2C469.1 269.6 475.3 291.4 485.5 293.1C495.6 294.8 506.4 279.5 516.0 275.5C525.5 271.4 534.0 276.5 543.0 268.9C552.1 261.3 561.1 235.3 570.1 230.0C579.1 224.6 588.2 233.2 597.2 236.8C606.2 240.5 615.2 248.0 624.3 251.8C633.3 255.5 642.9 248.0 651.3 259.2C659.8 270.4 667.7 317.7 675.0 318.9C682.4 320.1 691.9 275.2 695.3 266.4" stroke="#9e9e9e" stroke-width="0.90" stroke-dasharray="0.6,1.6,2,1.6"/>
<path d="M52.3 198.4C61.9 202.5 90.1 216.5 109.8 223.2C129.6 229.9 151.6 234.1 170.7 238.4C189.9 242.8 205.7 246.1 224.9 249.1C244.1 252.0 266.6 252.7 285.8 256.0C305.0 259.4 320.8 266.5 340.0 269.0C359.1 271.6 381.7 270.6 400.9 271.5C420.1 272.4 440.9 267.0 455.0 274.4C469.1 281.8 475.3 307.9 485.5 315.8C495.6 323.7 506.4 324.0 516.0 322.0C525.5 320.0 534.0 309.9 543.0 303.8C552.1 297.7 561.1 288.0 570.1 285.5C579.1 282.9 588.2 285.5 597.2 288.5C606.2 291.4 615.2 308.9 624.3 303.1C633.3 297.3 642.9 262.2 651.3 253.5C659.8 244.7 667.7 246.1 675.0 250.6C682.4 255.1 691.9 275.5 695.3 280.5" stroke="#b46774" stroke-width="0.90" stroke-dasharray="0.6,1.6,2,1.6"/>
<path d="M52.3 201.5C61.9 206.2 90.1 222.1 109.8 229.6C129.6 237.2 151.6 243.1 170.7 246.8C189.9 250.6 205.7 249.3 224.9 251.9C244.1 254.5 266.6 258.3 285.8 262.4C305.0 266.4 320.8 273.8 340.0 276.3C359.1 278.8 381.7 276.0 400.9 277.3C420.1 278.5 440.9 275.8 455.0 283.7C469.1 291.5 475.3 315.5 485.5 324.2C495.6 332.9 506.4 337.1 516.0 335.8C525.5 334.6 534.0 314.7 543.0 316.7C552.1 318.7 561.1 345.0 570.1 347.7C579.1 350.3 588.2 339.3 597.2 332.9C606.2 326.5 615.2 315.6 624.3 309.2C633.3 302.8 642.9 293.7 651.3 294.7C659.8 295.6 667.7 315.1 675.0 314.8C682.4 314.6 691.9 296.8 695.3 293.1" stroke="#7dba73" stroke-width="0.90" stroke-dasharray="3.5,1.5"/>
<path d="M52.3 202.3C61.9 207.9 90.1 226.9 109.8 235.9C129.6 244.9 151.6 251.8 170.7 256.5C189.9 261.2 205.7 262.3 224.9 263.9C244.1 265.5 266.6 263.2 285.8 266.2C305.0 269.2 320.8 279.0 340.0 282.0C359.1 285.0 381.7 280.0 400.9 284.2C420.1 288.5 440.9 301.6 455.0 307.4C469.1 313.3 475.3 320.3 485.5 319.1C495.6 318.0 506.4 302.5 516.0 300.5C525.5 298.5 534.0 304.5 543.0 306.9C552.1 309.3 561.1 313.4 570.1 314.6C579.1 315.9 588.2 316.8 597.2 314.4C606.2 312.0 615.2 301.6 624.3 300.1C633.3 298.7 642.9 305.4 651.3 305.9C659.8 306.3 667.7 306.4 675.0 303.0C682.4 299.6 691.9 288.3 695.3 285.3" stroke="#4b8bb7" stroke-width="0.90" stroke-dasharray="2,2"/>
<path d="M52.3 201.4C61.9 208.3 90.1 231.8 109.8 243.0C129.6 254.2 151.6 263.8 170.7 268.5C189.9 273.2 205.7 270.1 224.9 271.1C244.1 272.1 266.6 271.6 285.8 274.5C305.0 277.4 320.8 285.5 340.0 288.6C359.1 291.7 381.7 289.6 400.9 293.3C420.1 297.0 440.9 307.3 455.0 310.8C469.1 314.3 475.3 314.3 485.5 314.2C495.6 314.1 506.4 308.9 516.0 310.2C525.5 311.5 534.0 324.3 543.0 322.1C552.1 319.8 561.1 297.8 570.1 296.5C579.1 295.2 588.2 306.2 597.2 314.3C606.2 322.4 615.2 342.7 624.3 345.0C633.3 347.4 642.9 329.1 651.3 328.5C659.8 328.0 667.7 348.0 675.0 341.8C682.4 335.5 691.9 299.7 695.3 291.3" stroke="#9e9e9e" stroke-width="0.90" stroke-dasharray="1,1,3,1"/>
<path d="M52.3 195.0C72.0 196.4 131.8 197.6 170.7 203.6C209.7 209.7 247.5 225.7 285.8 231.2C324.2 236.6 374.9 232.6 400.9 236.5C426.8 240.4 429.1 245.5 441.5 254.6C453.9 263.7 464.1 283.8 475.3 290.9C486.6 298.1 497.9 301.7 509.2 297.5C520.5 293.3 531.7 274.2 543.0 265.6C554.3 256.9 565.6 249.5 576.9 245.5C588.2 241.5 599.4 245.5 610.7 241.5C622.0 237.5 634.4 223.6 644.6 221.8C654.7 220.0 663.2 228.2 671.6 230.9C680.1 233.5 691.4 236.4 695.3 237.5" stroke="#992e90" stroke-width="0.90"/>
<path d="M52.3 183.9C72.0 180.1 131.8 163.6 170.7 161.4C209.7 159.1 247.5 169.8 285.8 170.5C324.2 171.2 374.9 164.2 400.9 165.7C426.8 167.2 429.1 172.5 441.5 179.5C453.9 186.5 464.1 204.1 475.3 207.7C486.6 211.4 497.9 198.3 509.2 201.4C520.5 204.4 531.7 225.7 543.0 226.1C554.3 226.5 565.6 207.7 576.9 203.8C588.2 199.8 599.4 201.1 610.7 202.5C622.0 204.0 634.4 204.6 644.6 212.7C654.7 220.7 663.2 256.6 671.6 250.8C680.1 245.1 691.4 190.3 695.3 178.2" stroke="#b46774" stroke-width="0.90"/>
<path d="M52.3 200.2C72.0 206.5 131.8 228.1 170.7 237.9C209.7 247.7 247.5 254.5 285.8 258.9C324.2 263.4 374.9 262.1 400.9 264.5C426.8 266.8 429.1 277.2 441.5 273.0C453.9 268.9 464.1 249.4 475.3 239.7C486.6 230.1 497.9 217.3 509.2 215.1C520.5 212.9 531.7 217.9 543.0 226.5C554.3 235.2 565.6 262.2 576.9 267.0C588.2 271.8 599.4 255.9 610.7 255.2C622.0 254.4 634.4 264.0 644.6 262.3C654.7 260.7 663.2 251.6 671.6 245.3C680.1 239.0 691.4 227.8 695.3 224.3" stroke="#63c9cb" stroke-width="0.90" stroke-dasharray="2,2"/>
<path d="M52.3 184.0C72.0 181.7 131.8 170.1 170.7 170.0C209.7 169.9 247.5 181.8 285.8 183.5C324.2 185.2 374.9 177.7 400.9 180.3C426.8 182.8 429.1 191.6 441.5 198.7C453.9 205.8 464.1 220.6 475.3 222.9C486.6 225.2 497.9 207.2 509.2 212.4C520.5 217.7 531.7 245.1 543.0 254.7C554.3 264.3 565.6 268.9 576.9 270.1C588.2 271.4 599.4 254.3 610.7 262.3C622.0 270.4 634.4 307.8 644.6 318.3C654.7 328.9 663.2 319.7 671.6 325.8C680.1 331.9 691.4 350.3 695.3 355.2" stroke="#7dba73" stroke-width="0.90" stroke-dasharray="2,2"/>
<path d="M52.3 189.5C72.0 189.5 131.8 188.1 170.7 189.5C209.7 190.9 247.5 194.8 285.8 198.1C324.2 201.3 374.9 204.3 400.9 209.0C426.8 213.6 429.1 215.1 441.5 225.8C453.9 236.6 464.1 275.7 475.3 273.6C486.6 271.5 497.9 223.7 509.2 213.2C520.5 202.8 531.7 214.3 543.0 211.0C554.3 207.6 565.6 188.8 576.9 193.2C588.2 197.6 599.4 225.2 610.7 237.3C622.0 249.5 634.4 250.5 644.6 266.1C654.7 281.7 663.2 328.5 671.6 330.8C680.1 333.1 691.4 288.4 695.3 279.9" stroke="#ddc45f" stroke-width="0.90" stroke-dasharray="2,2"/>
<path d="M52.3 189.4C61.9 189.2 90.1 188.5 109.8 188.2C129.6 187.9 151.6 186.3 170.7 187.5C189.9 188.7 205.7 193.3 224.9 195.5C244.1 197.8 266.6 199.7 285.8 201.0C305.0 202.4 320.8 203.2 340.0 203.6C359.1 204.1 381.7 202.5 400.9 203.7C420.1 204.9 437.0 208.3 455.0 210.7C473.1 213.1 492.3 215.1 509.2 218.2C526.1 221.3 541.9 223.2 556.6 229.5C571.2 235.7 584.8 243.2 597.2 255.8C609.6 268.3 622.0 290.8 631.0 304.6C640.1 318.3 645.7 332.1 651.3 338.4C657.0 344.6 659.8 347.8 664.9 342.1C669.9 336.5 676.7 320.2 681.8 304.6C686.9 288.9 693.1 257.6 695.3 248.2" stroke="#992e90" stroke-width="0.90" stroke-dasharray="2,2"/>
<path d="M52.3 192.1C61.9 192.8 90.1 195.4 109.8 196.1C129.6 196.8 151.6 194.5 170.7 196.2C189.9 198.0 205.7 203.9 224.9 206.6C244.1 209.3 266.6 210.5 285.8 212.3C305.0 214.1 320.8 216.3 340.0 217.7C359.1 219.1 381.7 218.7 400.9 220.6C420.1 222.6 437.0 226.7 455.0 229.5C473.1 232.2 492.3 235.1 509.2 237.0C526.1 238.9 541.9 236.4 556.6 240.7C571.2 245.1 585.9 254.5 597.2 263.3C608.5 272.0 616.4 283.3 624.3 293.3C632.2 303.3 638.4 317.1 644.6 323.3C650.8 329.6 655.8 333.4 661.5 330.9C667.1 328.4 672.8 319.6 678.4 308.3C684.1 297.1 692.5 270.8 695.3 263.3" stroke="#b46774" stroke-width="0.90" stroke-dasharray="2,2"/>
<path d="M52.3 193.9C61.9 195.1 90.1 199.3 109.8 201.1C129.6 202.9 151.6 202.5 170.7 204.9C189.9 207.3 205.7 212.7 224.9 215.7C244.1 218.6 266.6 220.4 285.8 222.8C305.0 225.2 320.8 228.1 340.0 230.0C359.1 231.9 381.7 232.5 400.9 234.3C420.1 236.1 435.9 237.8 455.0 240.7C474.2 243.7 497.9 248.2 516.0 252.0C534.0 255.8 548.7 257.6 563.3 263.3C578.0 268.9 592.7 277.0 604.0 285.8C615.2 294.6 622.6 304.6 631.0 315.8C639.5 327.1 648.5 348.4 654.7 353.4C660.9 358.4 663.2 354.6 668.3 345.9C673.3 337.1 680.7 315.8 685.2 300.8C689.7 285.8 693.6 263.3 695.3 255.8" stroke="#4b8bb7" stroke-width="0.90" stroke-dasharray="2,2"/>
<path d="M52.3 194.8C61.9 196.3 90.1 201.5 109.8 203.7C129.6 205.8 151.6 205.1 170.7 207.7C189.9 210.3 205.7 215.9 224.9 219.2C244.1 222.6 266.6 225.2 285.8 227.9C305.0 230.6 320.8 233.2 340.0 235.4C359.1 237.7 381.7 239.3 400.9 241.5C420.1 243.6 435.9 244.6 455.0 248.2C474.2 251.9 496.8 259.5 516.0 263.3C535.1 267.0 554.3 265.8 570.1 270.8C585.9 275.8 598.9 284.5 610.7 293.3C622.6 302.1 633.3 317.7 641.2 323.3C649.1 329.0 652.5 329.0 658.1 327.1C663.7 325.2 668.8 320.8 675.0 312.1C681.2 303.3 691.9 280.8 695.3 274.5" stroke="#63c9cb" stroke-width="0.90" stroke-dasharray="3.5,1.5"/>
<path d="M52.3 188.5C61.9 188.1 90.1 186.6 109.8 186.4C129.6 186.1 151.6 186.1 170.7 187.1C189.9 188.0 205.7 189.5 224.9 192.0C244.1 194.6 266.6 201.4 285.8 202.5C305.0 203.7 320.8 199.5 340.0 198.9C359.1 198.3 381.7 198.1 400.9 198.8C420.1 199.5 435.9 203.7 455.0 203.2C474.2 202.7 499.0 194.4 516.0 195.7C532.9 196.9 544.2 203.2 556.6 210.7C569.0 218.2 580.3 229.5 590.4 240.7C600.6 252.0 609.6 267.0 617.5 278.3C625.4 289.6 631.6 302.1 637.8 308.3C644.0 314.6 649.1 317.1 654.7 315.8C660.4 314.6 664.9 313.3 671.6 300.8C678.4 288.3 691.4 250.8 695.3 240.7" stroke="#992e90" stroke-width="0.90"/>
<path d="M52.3 195.7C61.9 197.6 90.1 203.6 109.8 207.1C129.6 210.7 151.6 213.8 170.7 216.9C189.9 219.9 205.7 222.0 224.9 225.5C244.1 229.0 266.6 235.1 285.8 237.9C305.0 240.8 320.8 241.0 340.0 242.8C359.1 244.5 381.7 246.5 400.9 248.6C420.1 250.8 437.0 252.1 455.0 255.8C473.1 259.5 492.3 267.0 509.2 270.8C526.1 274.5 541.9 274.5 556.6 278.3C571.2 282.0 585.9 287.7 597.2 293.3C608.5 298.9 615.2 304.6 624.3 312.1C633.3 319.6 644.6 331.5 651.3 338.4C658.1 345.3 659.8 355.9 664.9 353.4C669.9 350.9 676.7 335.9 681.8 323.3C686.9 310.8 693.1 285.8 695.3 278.3" stroke="#9e9e9e" stroke-width="0.90" stroke-dasharray="2,2"/>
<path d="M52.3 195.7C63.0 196.3 96.8 198.2 116.6 199.4C136.3 200.7 152.7 200.7 170.7 203.2C188.8 205.7 205.7 210.7 224.9 214.5C244.1 218.2 266.6 220.7 285.8 225.7C305.0 230.7 323.0 238.2 340.0 244.5C356.9 250.8 370.6 258.7 387.3 263.3C404.0 267.8 428.1 270.3 440.1 271.9C452.2 273.5 445.1 271.8 459.8 272.7C474.4 273.5 513.0 275.3 528.1 277.2C543.3 279.0 542.9 281.4 550.5 283.9C558.0 286.4 565.9 289.2 573.5 292.2C581.0 295.2 587.3 298.5 595.8 301.9C604.4 305.4 615.7 309.6 624.9 312.8C634.2 316.1 645.2 320.6 651.3 321.5C657.4 322.3 655.8 325.7 661.5 318.1C667.1 310.5 679.5 286.1 685.2 275.7C690.8 265.3 693.6 259.1 695.3 255.8" stroke="#63c9cb" stroke-width="0.99"/>
<path d="M52.3 199.4C60.7 202.6 83.3 210.7 103.0 218.2C122.8 225.7 148.2 237.6 170.7 244.5C193.3 251.4 219.2 256.1 238.4 259.5C257.6 263.0 268.9 262.0 285.8 265.1C302.7 268.3 321.9 274.2 340.0 278.3C358.0 282.4 374.1 285.4 394.1 289.6C414.1 293.7 441.3 300.2 459.8 303.4C478.3 306.7 490.7 306.3 505.1 309.1C519.6 311.9 535.0 315.3 546.4 320.3C557.8 325.4 566.4 335.9 573.5 339.5C580.6 343.1 583.4 342.5 589.1 341.7C594.7 341.0 602.1 337.2 607.3 335.0C612.5 332.7 614.6 329.7 620.2 328.2C625.8 326.8 633.5 326.0 641.2 326.4C648.9 326.7 659.1 330.4 666.2 330.1C673.3 329.9 679.0 327.2 683.8 324.9C688.7 322.5 693.4 317.7 695.3 316.2" stroke="#ddc45f" stroke-width="0.99"/>
<path d="M52.3 187.4C57.4 186.3 72.0 182.3 82.7 180.7C93.5 179.0 105.3 178.3 116.6 177.7C127.9 177.0 139.1 176.8 150.4 176.9C161.7 177.0 173.0 177.3 184.3 178.4C195.6 179.5 207.2 181.1 218.1 183.7C229.1 186.2 238.8 190.7 249.9 193.8C261.1 196.9 273.3 199.1 285.1 202.1C297.0 205.1 311.9 209.4 321.0 211.8C330.1 214.2 332.3 214.3 340.0 216.3C347.6 218.4 357.2 223.4 367.0 224.2C376.9 225.0 387.7 222.8 398.9 221.2C410.0 219.6 422.3 216.0 434.0 214.5C445.8 212.9 457.4 212.4 469.2 211.8C481.1 211.3 493.3 210.1 505.1 211.1C517.0 212.0 528.8 214.9 540.3 217.5C551.8 220.0 562.9 222.3 574.2 226.5C585.4 230.6 599.6 238.3 608.0 242.2C616.5 246.2 619.4 246.9 624.9 250.1C630.5 253.4 635.1 258.7 641.2 261.8C647.3 264.8 655.6 268.0 661.5 268.5C667.4 269.1 671.9 267.4 676.4 265.1C680.9 262.9 685.4 257.8 688.6 255.0C691.7 252.2 694.2 249.4 695.3 248.2" stroke="#1e1e1e" stroke-width="1.98"/>
</g>
<g fill="none" stroke-width="0.75">
<circle cx="63.8" cy="60.5" r="2.4" stroke="#63c9cb"/>
<circle cx="125.4" cy="60.5" r="2.4" stroke="#992e90"/>
<circle cx="141.6" cy="60.5" r="2.4" stroke="#9e9e9e"/>
<circle cx="178.2" cy="60.5" r="2.4" stroke="#4b8bb7"/>
<circle cx="200.5" cy="60.5" r="2.4" stroke="#4b8bb7"/>
<circle cx="266.9" cy="60.5" r="2.4" stroke="#4b8bb7"/>
<circle cx="342.0" cy="60.5" r="2.4" stroke="#4b8bb7"/>
<circle cx="662.8" cy="60.5" r="2.4" stroke="#b46774"/>
<circle cx="677.7" cy="60.5" r="2.4" stroke="#000000"/>
<circle cx="67.2" cy="98.1" r="2.4" stroke="#000000"/>
<circle cx="130.8" cy="98.1" r="2.4" stroke="#000000"/>
<circle cx="138.2" cy="98.1" r="2.4" stroke="#000000"/>
<circle cx="108.5" cy="98.1" r="2.4" stroke="#9e9e9e"/>
<circle cx="650.0" cy="98.1" r="2.4" stroke="#9e9e9e"/>
<circle cx="147.7" cy="98.1" r="2.4" stroke="#4b8bb7"/>
<circle cx="173.4" cy="98.1" r="2.4" stroke="#4b8bb7"/>
<circle cx="685.2" cy="98.1" r="2.4" stroke="#4b8bb7"/>
<circle cx="156.5" cy="98.1" r="2.4" stroke="#ddc45f"/>
<circle cx="166.7" cy="98.1" r="2.4" stroke="#b46774"/>
<circle cx="250.6" cy="98.1" r="2.4" stroke="#992e90"/>
<circle cx="352.1" cy="98.1" r="2.4" stroke="#7dba73"/>
<circle cx="62.4" cy="135.6" r="2.4" stroke="#992e90"/>
<circle cx="170.1" cy="135.6" r="2.4" stroke="#992e90"/>
<circle cx="171.4" cy="135.6" r="2.4" stroke="#992e90"/>
<circle cx="346.7" cy="135.6" r="2.4" stroke="#992e90"/>
<circle cx="361.6" cy="135.6" r="2.4" stroke="#992e90"/>
<circle cx="675.7" cy="135.6" r="2.4" stroke="#992e90"/>
<circle cx="80.0" cy="135.6" r="2.4" stroke="#63c9cb"/>
<circle cx="84.1" cy="135.6" r="2.4" stroke="#63c9cb"/>
<circle cx="251.3" cy="135.6" r="2.4" stroke="#63c9cb"/>
<circle cx="314.2" cy="135.6" r="2.4" stroke="#63c9cb"/>
<circle cx="90.2" cy="135.6" r="2.4" stroke="#b46774"/>
<circle cx="92.9" cy="135.6" r="2.4" stroke="#b46774"/>
<circle cx="330.5" cy="135.6" r="2.4" stroke="#b46774"/>
<circle cx="335.9" cy="135.6" r="2.4" stroke="#b46774"/>
<circle cx="105.1" cy="135.6" r="2.4" stroke="#ddc45f"/>
<circle cx="143.7" cy="135.6" r="2.4" stroke="#000000"/>
<circle cx="155.8" cy="135.6" r="2.4" stroke="#000000"/>
<circle cx="224.2" cy="135.6" r="2.4" stroke="#000000"/>
<circle cx="693.3" cy="135.6" r="2.4" stroke="#000000"/>
<circle cx="298.0" cy="135.6" r="2.4" stroke="#7dba73"/>
<circle cx="302.7" cy="135.6" r="2.4" stroke="#7dba73"/>
<circle cx="662.8" cy="135.6" r="2.4" stroke="#4b8bb7"/>
<circle cx="107.1" cy="173.1" r="2.4" stroke="#992e90"/>
<circle cx="150.4" cy="173.1" r="2.4" stroke="#992e90"/>
<circle cx="210.0" cy="173.1" r="2.4" stroke="#992e90"/>
<circle cx="117.9" cy="173.1" r="2.4" stroke="#000000"/>
<circle cx="300.7" cy="173.1" r="2.4" stroke="#000000"/>
<circle cx="318.3" cy="173.1" r="2.4" stroke="#000000"/>
<circle cx="159.2" cy="173.1" r="2.4" stroke="#9e9e9e"/>
<circle cx="353.5" cy="173.1" r="2.4" stroke="#9e9e9e"/>
<circle cx="685.2" cy="173.1" r="2.4" stroke="#9e9e9e"/>
<circle cx="165.3" cy="173.1" r="2.4" stroke="#4b8bb7"/>
<circle cx="166.7" cy="173.1" r="2.4" stroke="#4b8bb7"/>
<circle cx="652.0" cy="173.1" r="2.4" stroke="#4b8bb7"/>
<circle cx="262.1" cy="173.1" r="2.4" stroke="#7dba73"/>
<circle cx="339.3" cy="173.1" r="2.4" stroke="#63c9cb"/>
<circle cx="657.4" cy="173.1" r="2.4" stroke="#63c9cb"/>
<circle cx="661.5" cy="173.1" r="2.4" stroke="#63c9cb"/>
<circle cx="373.8" cy="173.1" r="2.4" stroke="#b46774"/>
<circle cx="376.5" cy="173.1" r="2.4" stroke="#b46774"/>
<circle cx="85.4" cy="210.7" r="2.4" stroke="#b46774"/>
<circle cx="104.4" cy="210.7" r="2.4" stroke="#b46774"/>
<circle cx="654.7" cy="210.7" r="2.4" stroke="#b46774"/>
<circle cx="111.2" cy="210.7" r="2.4" stroke="#63c9cb"/>
<circle cx="211.3" cy="210.7" r="2.4" stroke="#63c9cb"/>
<circle cx="217.4" cy="210.7" r="2.4" stroke="#63c9cb"/>
<circle cx="245.2" cy="210.7" r="2.4" stroke="#63c9cb"/>
<circle cx="118.6" cy="210.7" r="2.4" stroke="#7dba73"/>
<circle cx="130.1" cy="210.7" r="2.4" stroke="#7dba73"/>
<circle cx="133.5" cy="210.7" r="2.4" stroke="#7dba73"/>
<circle cx="360.3" cy="210.7" r="2.4" stroke="#7dba73"/>
<circle cx="691.9" cy="210.7" r="2.4" stroke="#7dba73"/>
<circle cx="142.3" cy="210.7" r="2.4" stroke="#ddc45f"/>
<circle cx="171.4" cy="210.7" r="2.4" stroke="#000000"/>
<circle cx="281.7" cy="210.7" r="2.4" stroke="#000000"/>
<circle cx="329.1" cy="210.7" r="2.4" stroke="#000000"/>
<circle cx="380.6" cy="210.7" r="2.4" stroke="#000000"/>
<circle cx="673.7" cy="210.7" r="2.4" stroke="#000000"/>
<circle cx="186.3" cy="210.7" r="2.4" stroke="#9e9e9e"/>
<circle cx="193.1" cy="210.7" r="2.4" stroke="#9e9e9e"/>
<circle cx="339.3" cy="210.7" r="2.4" stroke="#9e9e9e"/>
<circle cx="275.7" cy="210.7" r="2.4" stroke="#992e90"/>
<circle cx="368.4" cy="210.7" r="2.4" stroke="#992e90"/>
<circle cx="94.9" cy="248.2" r="2.4" stroke="#7dba73"/>
<circle cx="114.6" cy="248.2" r="2.4" stroke="#4b8bb7"/>
<circle cx="174.1" cy="248.2" r="2.4" stroke="#4b8bb7"/>
<circle cx="132.8" cy="248.2" r="2.4" stroke="#ddc45f"/>
<circle cx="662.8" cy="248.2" r="2.4" stroke="#ddc45f"/>
<circle cx="197.1" cy="248.2" r="2.4" stroke="#992e90"/>
<circle cx="639.1" cy="248.2" r="2.4" stroke="#000000"/>
<circle cx="114.6" cy="285.8" r="2.4" stroke="#ddc45f"/>
<circle cx="292.6" cy="285.8" r="2.4" stroke="#ddc45f"/>
<circle cx="138.9" cy="285.8" r="2.4" stroke="#000000"/>
<circle cx="243.8" cy="285.8" r="2.4" stroke="#000000"/>
<circle cx="270.2" cy="285.8" r="2.4" stroke="#000000"/>
<circle cx="663.5" cy="285.8" r="2.4" stroke="#000000"/>
<circle cx="201.9" cy="285.8" r="2.4" stroke="#992e90"/>
<circle cx="306.8" cy="285.8" r="2.4" stroke="#4b8bb7"/>
<circle cx="339.3" cy="285.8" r="2.4" stroke="#7dba73"/>
<circle cx="657.4" cy="285.8" r="2.4" stroke="#7dba73"/>
<circle cx="344.7" cy="285.8" r="2.4" stroke="#b46774"/>
<circle cx="358.9" cy="285.8" r="2.4" stroke="#63c9cb"/>
<circle cx="675.7" cy="285.8" r="2.4" stroke="#63c9cb"/>
<circle cx="303.4" cy="323.3" r="2.4" stroke="#63c9cb"/>
<circle cx="652.0" cy="323.3" r="2.4" stroke="#63c9cb"/>
<circle cx="655.4" cy="323.3" r="2.4" stroke="#63c9cb"/>
<circle cx="318.3" cy="323.3" r="2.4" stroke="#9e9e9e"/>
<circle cx="356.9" cy="323.3" r="2.4" stroke="#9e9e9e"/>
<circle cx="335.9" cy="323.3" r="2.4" stroke="#7dba73"/>
<circle cx="339.3" cy="323.3" r="2.4" stroke="#ddc45f"/>
<circle cx="342.0" cy="323.3" r="2.4" stroke="#ddc45f"/>
<circle cx="350.8" cy="323.3" r="2.4" stroke="#ddc45f"/>
<circle cx="687.2" cy="323.3" r="2.4" stroke="#ddc45f"/>
<circle cx="685.2" cy="323.3" r="2.4" stroke="#ddc45f"/>
<circle cx="668.3" cy="323.3" r="2.4" stroke="#992e90"/>
<circle cx="352.1" cy="360.9" r="2.4" stroke="#b46774"/>
<circle cx="361.6" cy="360.9" r="2.4" stroke="#4b8bb7"/>
<circle cx="670.3" cy="360.9" r="2.4" stroke="#4b8bb7"/>
<circle cx="676.4" cy="360.9" r="2.4" stroke="#4b8bb7"/>
<circle cx="665.5" cy="360.9" r="2.4" stroke="#992e90"/>
<circle cx="682.5" cy="360.9" r="2.4" stroke="#992e90"/>
<circle cx="65.1" cy="398.4" r="2.4" stroke="#9e9e9e"/>
<circle cx="188.3" cy="398.4" r="2.4" stroke="#b46774"/>
<circle cx="674.3" cy="398.4" r="2.4" stroke="#b46774"/>
<circle cx="143.0" cy="398.4" r="2.4" stroke="#7dba73"/>
<circle cx="658.1" cy="398.4" r="2.4" stroke="#7dba73"/>
<circle cx="662.2" cy="398.4" r="2.4" stroke="#7dba73"/>
<circle cx="671.0" cy="398.4" r="2.4" stroke="#ddc45f"/>
<circle cx="681.8" cy="398.4" r="2.4" stroke="#63c9cb"/>
<circle cx="685.9" cy="398.4" r="2.4" stroke="#63c9cb"/>
</g>
<rect x="52.3" y="6.1" width="643.0" height="407.3" fill="none" stroke="#444" stroke-width="1.1"/>
<line x1="69.2" y1="413.4" x2="69.2" y2="419.9" stroke="#444" stroke-width="1"/>
<text x="69.2" y="435.6" text-anchor="middle" class="t">40</text>
<line x1="204.6" y1="413.4" x2="204.6" y2="419.9" stroke="#444" stroke-width="1"/>
<text x="204.6" y="435.6" text-anchor="middle" class="t">60</text>
<line x1="340.0" y1="413.4" x2="340.0" y2="419.9" stroke="#444" stroke-width="1"/>
<text x="340.0" y="435.6" text-anchor="middle" class="t">80</text>
<line x1="475.3" y1="413.4" x2="475.3" y2="419.9" stroke="#444" stroke-width="1"/>
<text x="475.3" y="435.6" text-anchor="middle" class="t">100</text>
<line x1="610.7" y1="413.4" x2="610.7" y2="419.9" stroke="#444" stroke-width="1"/>
<text x="610.7" y="435.6" text-anchor="middle" class="t">120</text>
<line x1="45.8" y1="360.9" x2="52.3" y2="360.9" stroke="#444" stroke-width="1"/>
<text x="37.8" y="360.9" text-anchor="middle" class="t" transform="rotate(-90 37.8 360.9)">2</text>
<line x1="45.8" y1="285.8" x2="52.3" y2="285.8" stroke="#444" stroke-width="1"/>
<text x="37.8" y="285.8" text-anchor="middle" class="t" transform="rotate(-90 37.8 285.8)">4</text>
<line x1="45.8" y1="210.7" x2="52.3" y2="210.7" stroke="#444" stroke-width="1"/>
<text x="37.8" y="210.7" text-anchor="middle" class="t" transform="rotate(-90 37.8 210.7)">6</text>
<line x1="45.8" y1="135.6" x2="52.3" y2="135.6" stroke="#444" stroke-width="1"/>
<text x="37.8" y="135.6" text-anchor="middle" class="t" transform="rotate(-90 37.8 135.6)">8</text>
<line x1="45.8" y1="60.5" x2="52.3" y2="60.5" stroke="#444" stroke-width="1"/>
<text x="37.8" y="60.5" text-anchor="middle" class="t" transform="rotate(-90 37.8 60.5)">10</text>
<text x="12.8" y="209.8" text-anchor="middle" class="t" transform="rotate(-90 12.8 209.8)">ADOS</text>
<text x="373.8" y="460.5" text-anchor="middle" class="t">Age Months</text>
<clipPath id="c2"><rect x="56.8" y="479.9" width="642.8" height="407.3"/></clipPath>
<g clip-path="url(#c2)" fill="none" stroke-linecap="butt" stroke-linejoin="round">
<path d="M56.6 624.7C66.2 625.5 94.4 627.8 114.1 629.3C133.8 630.9 155.8 632.4 175.0 633.9C194.2 635.5 210.0 637.0 229.2 638.5C248.3 640.1 270.9 637.8 290.1 643.2C309.2 648.5 329.5 657.7 344.2 670.8C358.9 683.8 367.9 707.6 378.0 721.4C388.2 735.3 396.1 742.9 405.1 753.7C414.1 764.4 425.2 778.5 432.2 785.9C439.2 793.3 441.8 795.9 447.1 797.9C452.4 799.9 456.3 798.3 464.0 797.9C471.7 797.4 483.7 797.2 493.1 795.1C502.4 793.0 508.9 790.8 520.2 785.4C531.4 780.1 547.2 771.3 560.8 762.9C574.3 754.5 589.0 743.7 601.4 735.3C613.8 726.8 623.9 720.7 635.2 712.2C646.5 703.8 658.3 693.0 669.0 684.6C679.8 676.2 694.4 665.4 699.5 661.6" stroke="#992e90" stroke-width="0.90" stroke-dasharray="2,2"/>
<path d="M56.6 679.5C66.2 680.8 94.4 685.4 114.1 686.9C133.8 688.4 155.8 688.7 175.0 688.7C194.2 688.7 210.0 687.7 229.2 686.9C248.3 686.1 270.9 681.0 290.1 683.7C309.2 686.4 328.4 692.1 344.2 703.0C360.0 713.9 370.1 733.7 384.8 749.1C399.5 764.4 419.5 784.8 432.2 795.1C444.8 805.4 450.4 808.5 460.6 810.8C470.8 813.1 483.2 810.8 493.1 808.9C503.0 807.1 508.9 805.1 520.2 799.7C531.4 794.4 547.2 785.1 560.8 776.7C574.3 768.3 586.7 759.0 601.4 749.1C616.0 739.1 632.4 729.1 648.7 716.8C665.1 704.6 691.0 682.3 699.5 675.4" stroke="#ddc45f" stroke-width="0.90" stroke-dasharray="2,2"/>
<path d="M56.6 659.3C66.2 662.0 94.4 670.0 114.1 675.4C133.8 680.8 155.8 687.7 175.0 691.5C194.2 695.3 210.0 697.2 229.2 698.4C248.3 699.6 270.9 695.8 290.1 698.9C309.2 701.9 326.2 707.7 344.2 716.8C362.2 726.0 381.4 744.5 398.3 753.7C415.3 762.9 432.2 768.3 445.7 772.1C459.2 775.9 467.1 777.5 479.6 776.7C492.0 775.9 506.6 772.1 520.2 767.5C533.7 762.9 547.2 756.7 560.8 749.1C574.3 741.4 586.7 730.6 601.4 721.4C616.0 712.2 632.4 703.0 648.7 693.8C665.1 684.6 691.0 670.8 699.5 666.2" stroke="#ddc45f" stroke-width="0.90" stroke-dasharray="2,2"/>
<path d="M56.6 645.0C66.2 646.2 95.2 650.0 114.1 652.4C133.1 654.7 151.1 658.9 170.3 659.3C189.4 659.7 209.2 656.2 229.2 654.7C249.1 653.1 270.9 648.9 290.1 650.1C309.2 651.2 330.7 655.8 344.2 661.6C357.7 667.3 361.9 676.8 371.3 684.6C380.6 692.4 391.3 700.9 400.4 708.5C409.4 716.2 415.4 724.2 425.4 730.6C435.4 737.1 450.4 744.9 460.6 747.2C470.8 749.5 477.2 746.7 486.3 744.5C495.5 742.2 503.5 738.6 515.4 733.9C527.4 729.1 546.0 723.0 558.1 715.9C570.1 708.9 579.4 699.8 587.8 691.5C596.3 683.2 601.8 674.0 608.8 666.2C615.8 658.4 621.3 649.6 629.8 644.5C638.2 639.5 647.9 635.6 659.6 635.8C671.2 635.9 692.8 643.8 699.5 645.5" stroke="#000000" stroke-width="0.90"/>
<path d="M56.6 638.5C66.2 638.9 94.4 640.1 114.1 640.9C133.8 641.6 154.7 642.4 175.0 643.2C195.3 643.9 216.7 644.7 235.9 645.5C255.1 646.2 272.0 644.3 290.1 647.8C308.1 651.2 328.4 654.7 344.2 666.2C360.0 677.7 371.3 701.5 384.8 716.8C398.3 732.2 412.8 749.0 425.4 758.3C438.0 767.6 448.2 770.3 460.6 772.6C473.0 774.9 485.4 776.0 499.9 772.1C514.3 768.2 530.3 759.8 547.2 749.1C564.1 738.3 584.4 719.9 601.4 707.6C618.3 695.3 632.4 686.1 648.7 675.4C665.1 664.6 691.0 648.5 699.5 643.2" stroke="#9e9e9e" stroke-width="0.90"/>
<path d="M56.6 583.3C66.2 583.7 94.4 584.8 114.1 585.6C133.8 586.4 155.8 587.9 175.0 587.9C194.2 587.9 210.8 587.1 229.2 585.6C247.5 584.1 268.9 583.1 285.3 578.7C301.8 574.2 313.7 563.6 328.0 558.9C342.2 554.2 360.0 549.8 370.6 550.6C381.2 551.4 384.5 552.1 391.6 563.5C398.7 574.8 406.1 597.4 413.2 618.7C420.3 640.1 428.6 674.8 434.2 691.5C439.8 708.2 442.1 713.4 447.1 719.1C452.0 724.9 456.3 726.8 464.0 726.0C471.7 725.3 482.8 721.2 493.1 714.5C503.3 707.9 514.3 694.0 525.6 686.0C536.8 677.9 548.1 672.6 560.8 666.2C573.4 659.8 586.7 653.1 601.4 647.8C616.0 642.4 632.4 637.8 648.7 633.9C665.1 630.1 691.0 626.3 699.5 624.7" stroke="#b46774" stroke-width="0.90"/>
<path d="M56.6 569.5C66.2 569.9 94.4 570.6 114.1 571.8C133.8 572.9 155.8 575.2 175.0 576.4C194.2 577.5 210.8 578.0 229.2 578.7C247.5 579.4 268.4 575.2 285.3 580.5C302.2 585.9 317.5 599.7 330.7 610.9C343.9 622.1 353.7 637.2 364.5 647.8C375.3 658.4 387.7 671.4 395.6 674.5C403.5 677.5 406.8 671.9 411.9 666.2C417.0 660.5 421.0 649.6 426.1 640.4C431.2 631.2 437.4 618.7 442.3 610.9C447.3 603.1 449.7 596.5 455.9 593.4C462.1 590.4 467.9 592.5 479.6 592.5C491.2 592.5 510.9 594.2 525.6 593.4C540.2 592.7 552.6 591.1 567.5 587.9C582.4 584.7 600.2 577.1 614.9 574.1C629.6 571.0 641.4 568.7 655.5 569.5C669.6 570.2 692.2 577.1 699.5 578.7" stroke="#000000" stroke-width="0.90" stroke-dasharray="2,2"/>
<path d="M56.6 574.1C66.2 574.5 94.4 575.6 114.1 576.4C133.8 577.1 155.8 577.9 175.0 578.7C194.2 579.5 210.8 578.7 229.2 581.0C247.5 583.3 268.4 587.5 285.3 592.5C302.2 597.5 316.3 603.2 330.7 610.9C345.0 618.6 359.0 629.4 371.3 638.5C383.6 647.7 395.4 659.6 404.4 665.7C413.5 671.9 416.3 673.0 425.4 675.4C434.5 677.8 446.8 680.8 459.2 680.0C471.7 679.2 485.2 675.4 499.9 670.8C514.5 666.2 530.3 659.3 547.2 652.4C564.1 645.5 584.4 636.2 601.4 629.3C618.3 622.4 632.4 616.3 648.7 610.9C665.1 605.5 691.0 599.4 699.5 597.1" stroke="#000000" stroke-width="0.90" stroke-dasharray="2,2"/>
<path d="M56.6 610.9C66.2 612.5 94.4 617.1 114.1 620.1C133.8 623.2 155.8 626.3 175.0 629.3C194.2 632.4 210.8 635.9 229.2 638.5C247.5 641.2 268.9 638.3 285.3 645.0C301.8 651.7 313.7 666.6 328.0 678.6C342.2 690.6 357.8 701.9 370.6 716.8C383.3 731.8 393.8 759.1 404.4 768.4C415.0 777.7 423.9 771.6 434.2 772.6C444.5 773.6 455.1 775.2 466.0 774.4C477.0 773.6 489.9 769.9 499.9 767.5C509.8 765.0 515.4 764.3 525.6 759.7C535.7 755.1 548.1 747.0 560.8 739.9C573.4 732.7 586.7 725.3 601.4 716.8C616.0 708.4 632.4 698.4 648.7 689.2C665.1 680.0 691.0 666.2 699.5 661.6" stroke="#7dba73" stroke-width="0.90"/>
<path d="M56.6 541.8C66.2 542.6 94.4 544.9 114.1 546.5C133.8 548.0 155.8 551.8 175.0 551.1C194.2 550.3 210.8 545.8 229.2 541.8C247.5 537.9 268.9 533.1 285.3 527.1C301.8 521.1 315.9 510.0 328.0 505.9C340.0 501.9 347.8 501.7 357.7 502.7C367.7 503.7 379.6 508.2 387.5 511.9C395.4 515.6 398.8 519.1 405.1 524.8C411.4 530.6 416.4 539.4 425.4 546.5C434.4 553.5 444.6 561.8 459.2 567.2C473.9 572.5 496.5 578.3 513.4 578.7C530.3 579.1 543.8 574.1 560.8 569.5C577.7 564.9 599.1 554.9 614.9 551.1C630.7 547.2 641.4 545.7 655.5 546.5C669.6 547.2 692.2 554.1 699.5 555.7" stroke="#000000" stroke-width="0.90" stroke-dasharray="0.6,1.6"/>
<path d="M56.6 578.7C66.2 578.7 94.4 578.7 114.1 578.7C133.8 578.7 155.8 579.5 175.0 578.7C194.2 577.9 210.8 576.4 229.2 574.1C247.5 571.8 268.9 568.4 285.3 564.9C301.8 561.3 315.9 554.9 328.0 552.9C340.0 550.9 348.5 551.1 357.7 552.9C367.0 554.7 375.6 561.0 383.5 563.5C391.3 565.9 397.0 566.3 405.1 567.6C413.2 569.0 423.2 570.7 432.2 571.8C441.2 572.9 445.7 574.1 459.2 574.1C472.8 574.1 496.5 574.5 513.4 571.8C530.3 569.1 546.1 563.0 560.8 558.0C575.4 553.0 589.0 545.2 601.4 541.8C613.8 538.5 623.9 537.7 635.2 537.7C646.5 537.7 658.3 539.6 669.0 541.8C679.8 544.1 694.4 549.5 699.5 551.1" stroke="#000000" stroke-width="0.90"/>
<path d="M56.6 528.0C66.2 528.8 94.4 530.7 114.1 532.6C133.8 534.6 155.8 539.5 175.0 539.5C194.2 539.5 210.0 536.5 229.2 532.6C248.3 528.8 273.1 521.1 290.1 516.5C307.0 511.9 319.4 507.3 330.7 505.0C341.9 502.7 349.8 502.3 357.7 502.7C365.6 503.1 370.9 504.3 378.0 507.3C385.1 510.3 392.5 515.7 400.4 520.7C408.3 525.7 415.4 532.2 425.4 537.2C435.4 542.3 445.9 548.0 460.6 551.1C475.3 554.1 496.7 556.4 513.4 555.7C530.1 554.9 543.8 550.3 560.8 546.5C577.7 542.6 599.1 534.9 614.9 532.6C630.7 530.3 641.4 531.1 655.5 532.6C669.6 534.2 692.2 540.3 699.5 541.8" stroke="#63c9cb" stroke-width="0.90" stroke-dasharray="0.6,1.6"/>
<path d="M56.6 564.9C66.2 565.6 94.4 567.9 114.1 569.5C133.8 571.0 154.7 574.1 175.0 574.1C195.3 574.1 216.7 571.8 235.9 569.5C255.1 567.2 272.0 564.1 290.1 560.3C308.1 556.4 325.1 551.1 344.2 546.5C363.3 541.8 387.5 532.6 404.4 532.6C421.3 532.6 431.5 542.2 445.7 546.5C459.9 550.7 475.3 557.5 489.7 558.4C504.1 559.3 518.1 556.6 532.3 552.0C546.5 547.4 562.2 538.5 575.0 530.8C587.7 523.0 599.3 511.5 608.8 505.5C618.3 499.5 623.8 494.2 631.8 494.9C639.8 495.6 645.5 502.2 656.9 509.6C668.3 517.1 693.0 534.6 700.2 539.5" stroke="#b46774" stroke-width="0.90" stroke-dasharray="0.6,1.6,2,1.6"/>
<path d="M56.6 540.9C66.2 541.8 94.4 545.1 114.1 546.5C133.8 547.8 155.8 548.8 175.0 548.8C194.2 548.8 210.0 548.4 229.2 546.5C248.3 544.5 270.9 541.1 290.1 537.2C309.2 533.4 328.4 524.2 344.2 523.4C360.0 522.7 371.3 524.2 384.8 532.6C398.3 541.1 413.0 563.3 425.4 574.1C437.8 584.8 445.7 591.7 459.2 597.1C472.8 602.5 489.7 606.3 506.6 606.3C523.5 606.3 542.7 601.7 560.8 597.1C578.8 592.5 599.1 583.3 614.9 578.7C630.7 574.1 641.4 570.2 655.5 569.5C669.6 568.7 692.2 573.3 699.5 574.1" stroke="#ddc45f" stroke-width="0.90" stroke-dasharray="2,2"/>
<path d="M56.6 546.5C66.2 546.0 94.4 544.6 114.1 543.9C133.8 543.1 155.8 542.8 175.0 541.8C194.2 540.9 210.0 540.4 229.2 538.2C248.3 536.1 270.9 532.8 290.1 529.0C309.2 525.1 325.8 515.1 344.2 515.0C362.6 514.9 381.0 519.5 400.4 528.4C419.8 537.2 440.6 560.3 460.6 567.8C480.6 575.3 500.1 574.1 520.2 573.4C540.2 572.8 561.9 570.0 581.1 563.8C600.2 557.7 615.5 538.5 635.2 536.5C654.9 534.5 688.8 549.2 699.5 551.7" stroke="#63c9cb" stroke-width="0.90" stroke-dasharray="2,2"/>
<path d="M56.6 549.7C66.2 549.3 94.4 548.0 114.1 547.2C133.8 546.4 155.8 547.0 175.0 545.1C194.2 543.3 210.0 538.1 229.2 536.0C248.3 533.8 270.9 535.6 290.1 532.2C309.2 528.9 325.8 517.2 344.2 515.8C362.6 514.3 381.0 515.7 400.4 523.4C419.8 531.1 440.6 556.6 460.6 562.0C480.6 567.3 500.1 556.4 520.2 555.7C540.2 555.0 561.9 559.6 581.1 557.7C600.2 555.9 615.5 544.7 635.2 544.8C654.9 544.9 688.8 556.0 699.5 558.3" stroke="#000000" stroke-width="0.90" stroke-dasharray="2,2"/>
<path d="M56.6 552.0C66.2 552.1 94.4 553.2 114.1 552.5C133.8 551.8 155.8 549.9 175.0 548.0C194.2 546.2 210.0 543.0 229.2 541.3C248.3 539.6 270.9 541.0 290.1 537.9C309.2 534.8 325.8 523.5 344.2 522.7C362.6 521.9 381.0 528.0 400.4 533.3C419.8 538.6 440.6 551.0 460.6 554.7C480.6 558.5 500.1 558.1 520.2 555.7C540.2 553.2 561.9 543.6 581.1 539.9C600.2 536.2 615.5 532.1 635.2 533.6C654.9 535.0 688.8 545.9 699.5 548.4" stroke="#992e90" stroke-width="0.90" stroke-dasharray="0.6,1.6"/>
<path d="M56.6 553.7C66.2 554.1 94.4 556.8 114.1 556.3C133.8 555.8 155.8 552.6 175.0 550.6C194.2 548.6 210.0 546.0 229.2 544.4C248.3 542.9 270.9 543.9 290.1 541.2C309.2 538.4 325.8 527.6 344.2 528.0C362.6 528.3 381.0 534.0 400.4 543.2C419.8 552.3 440.6 578.1 460.6 582.6C480.6 587.1 500.1 573.4 520.2 570.1C540.2 566.9 561.9 566.7 581.1 563.0C600.2 559.4 615.5 548.3 635.2 548.1C654.9 547.9 688.8 559.3 699.5 561.6" stroke="#9e9e9e" stroke-width="0.90"/>
<path d="M56.6 555.3C66.2 554.8 94.4 552.7 114.1 552.3C133.8 551.9 155.8 554.3 175.0 552.9C194.2 551.5 210.0 546.6 229.2 544.1C248.3 541.6 270.9 541.7 290.1 537.9C309.2 534.1 325.8 522.8 344.2 521.2C362.6 519.6 381.0 519.8 400.4 528.4C419.8 536.9 440.6 567.1 460.6 572.8C480.6 578.4 500.1 566.6 520.2 562.2C540.2 557.9 561.9 550.9 581.1 546.6C600.2 542.3 615.5 536.8 635.2 536.5C654.9 536.3 688.8 543.7 699.5 545.1" stroke="#4b8bb7" stroke-width="0.90" stroke-dasharray="2,2"/>
<path d="M56.6 557.0C66.2 557.4 94.4 560.1 114.1 559.8C133.8 559.5 155.8 556.6 175.0 555.2C194.2 553.8 210.0 553.6 229.2 551.3C248.3 549.0 270.9 545.6 290.1 541.2C309.2 536.8 325.8 526.3 344.2 525.0C362.6 523.7 381.0 525.3 400.4 533.3C419.8 541.3 440.6 567.9 460.6 572.8C480.6 577.6 500.1 567.3 520.2 562.2C540.2 557.2 561.9 546.3 581.1 542.6C600.2 539.0 615.5 539.5 635.2 540.5C654.9 541.4 688.8 547.1 699.5 548.4" stroke="#ddc45f" stroke-width="0.90" stroke-dasharray="0.6,1.6"/>
<path d="M56.6 558.6C66.2 559.1 94.4 561.8 114.1 561.6C133.8 561.5 155.8 559.6 175.0 557.6C194.2 555.7 210.0 551.1 229.2 550.0C248.3 548.9 270.9 553.0 290.1 551.1C309.2 549.1 325.8 537.6 344.2 538.0C362.6 538.5 381.0 543.8 400.4 553.7C419.8 563.6 440.6 590.9 460.6 597.4C480.6 604.0 500.1 595.7 520.2 592.8C540.2 590.0 561.9 584.8 581.1 580.5C600.2 576.1 615.5 568.3 635.2 566.8C654.9 565.3 688.8 570.7 699.5 571.4" stroke="#63c9cb" stroke-width="0.90"/>
<path d="M56.6 560.3C66.2 559.8 94.4 557.3 114.1 557.3C133.8 557.3 155.8 561.7 175.0 560.3C194.2 558.9 210.0 550.9 229.2 548.8C248.3 546.8 270.9 549.6 290.1 547.8C309.2 545.9 325.8 535.6 344.2 537.7C362.6 539.8 381.0 552.8 400.4 560.3C419.8 567.8 440.6 579.7 460.6 582.6C480.6 585.6 500.1 581.8 520.2 578.0C540.2 574.3 561.9 566.3 581.1 560.0C600.2 553.7 615.5 542.4 635.2 540.5C654.9 538.5 688.8 547.1 699.5 548.4" stroke="#000000" stroke-width="0.90" stroke-dasharray="3.5,1.5"/>
<path d="M56.6 561.9C66.2 562.5 94.4 565.5 114.1 565.7C133.8 565.9 155.8 563.9 175.0 562.9C194.2 561.9 210.0 560.8 229.2 559.9C248.3 558.9 270.9 559.7 290.1 557.4C309.2 555.1 325.8 544.6 344.2 546.0C362.6 547.4 381.0 556.1 400.4 565.5C419.8 574.9 440.6 598.6 460.6 602.4C480.6 606.1 500.1 593.1 520.2 587.9C540.2 582.7 561.9 576.1 581.1 570.9C600.2 565.8 615.5 559.6 635.2 557.0C654.9 554.3 688.8 555.3 699.5 555.0" stroke="#b46774" stroke-width="0.90" stroke-dasharray="2,2"/>
<path d="M56.6 563.6C66.2 563.4 94.4 562.3 114.1 562.6C133.8 562.9 155.8 565.0 175.0 565.3C194.2 565.6 210.0 565.6 229.2 564.3C248.3 563.0 270.9 560.4 290.1 557.4C309.2 554.3 325.8 544.6 344.2 546.0C362.6 547.4 381.0 555.3 400.4 565.5C419.8 575.7 440.6 599.5 460.6 607.3C480.6 615.1 500.1 614.5 520.2 612.6C540.2 610.6 561.9 599.0 581.1 595.8C600.2 592.5 615.5 593.6 635.2 593.2C654.9 592.8 688.8 593.4 699.5 593.5" stroke="#7dba73" stroke-width="0.90" stroke-dasharray="0.6,1.6"/>
<path d="M56.6 565.4C66.2 565.7 94.4 567.0 114.1 567.4C133.8 567.8 155.8 568.3 175.0 567.6C194.2 567.0 210.0 564.0 229.2 563.4C248.3 562.8 270.9 565.4 290.1 564.2C309.2 563.0 325.8 553.0 344.2 556.2C362.6 559.4 381.0 575.8 400.4 583.5C419.8 591.2 440.6 601.6 460.6 602.4C480.6 603.1 500.1 594.2 520.2 587.9C540.2 581.6 561.9 571.3 581.1 564.6C600.2 558.0 615.5 549.7 635.2 548.1C654.9 546.5 688.8 553.9 699.5 555.0" stroke="#63c9cb" stroke-width="0.90" stroke-dasharray="0.6,1.6,2,1.6"/>
<path d="M56.6 568.0C66.2 567.8 94.4 566.4 114.1 566.7C133.8 567.0 155.8 570.2 175.0 569.9C194.2 569.7 210.0 565.6 229.2 565.2C248.3 564.9 270.9 569.1 290.1 568.0C309.2 567.0 325.8 556.3 344.2 558.9C362.6 561.4 381.0 573.8 400.4 583.5C419.8 593.2 440.6 612.3 460.6 617.2C480.6 622.0 500.1 615.6 520.2 612.6C540.2 609.5 561.9 606.5 581.1 598.9C600.2 591.3 615.5 571.4 635.2 566.8C654.9 562.3 688.8 570.7 699.5 571.4" stroke="#992e90" stroke-width="0.90"/>
<path d="M56.6 570.4C66.2 570.7 94.4 572.1 114.1 572.4C133.8 572.8 155.8 574.4 175.0 572.5C194.2 570.6 210.0 563.1 229.2 561.2C248.3 559.3 270.9 562.1 290.1 560.9C309.2 559.7 325.8 550.1 344.2 553.9C362.6 557.6 381.0 575.4 400.4 583.5C419.8 591.6 440.6 598.3 460.6 602.4C480.6 606.4 500.1 609.1 520.2 607.6C540.2 606.2 561.9 599.1 581.1 593.7C600.2 588.2 615.5 577.6 635.2 575.0C654.9 572.4 688.8 577.5 699.5 578.0" stroke="#9e9e9e" stroke-width="0.90" stroke-dasharray="2,2"/>
<path d="M56.6 572.7C66.2 573.6 94.4 577.6 114.1 578.0C133.8 578.5 155.8 575.7 175.0 575.1C194.2 574.6 210.0 574.2 229.2 574.6C248.3 575.0 270.9 579.4 290.1 577.6C309.2 575.8 325.8 563.8 344.2 563.8C362.6 563.8 381.0 570.3 400.4 577.6C419.8 584.8 440.6 603.1 460.6 607.3C480.6 611.5 500.1 605.5 520.2 602.7C540.2 599.9 561.9 596.0 581.1 590.6C600.2 585.2 615.5 574.1 635.2 570.4C654.9 566.7 688.8 568.5 699.5 568.2" stroke="#000000" stroke-width="0.90" stroke-dasharray="0.6,1.6,2,1.6"/>
<path d="M56.6 575.0C66.2 575.4 94.4 577.1 114.1 577.5C133.8 578.0 155.8 579.1 175.0 577.8C194.2 576.5 210.0 570.7 229.2 569.7C248.3 568.7 270.9 572.5 290.1 571.7C309.2 570.9 325.8 560.9 344.2 564.7C362.6 568.5 381.0 584.9 400.4 594.5C419.8 604.0 440.6 618.3 460.6 622.1C480.6 625.9 500.1 619.0 520.2 617.5C540.2 616.0 561.9 616.6 581.1 613.3C600.2 610.1 615.5 600.5 635.2 597.8C654.9 595.0 688.8 596.9 699.5 596.8" stroke="#4b8bb7" stroke-width="0.90" stroke-dasharray="0.6,1.6"/>
<path d="M56.6 577.6C66.2 577.2 94.4 574.5 114.1 574.9C133.8 575.3 155.8 579.7 175.0 580.1C194.2 580.4 210.0 578.3 229.2 576.9C248.3 575.5 270.9 570.7 290.1 571.7C309.2 572.7 325.8 576.7 344.2 583.0C362.6 589.2 381.0 598.6 400.4 609.3C419.8 619.9 440.6 639.6 460.6 646.8C480.6 653.9 500.1 653.2 520.2 652.0C540.2 650.9 561.9 646.6 581.1 640.0C600.2 633.4 615.5 616.3 635.2 612.6C654.9 608.9 688.8 617.0 699.5 617.8" stroke="#ddc45f" stroke-width="0.90" stroke-dasharray="2,2"/>
<path d="M56.6 579.7C66.2 579.9 94.4 580.8 114.1 581.3C133.8 581.7 155.8 581.5 175.0 582.4C194.2 583.2 210.0 585.7 229.2 586.5C248.3 587.3 270.9 586.3 290.1 587.2C309.2 588.2 325.8 589.5 344.2 592.4C362.6 595.2 381.0 597.7 400.4 604.3C419.8 610.9 440.6 628.1 460.6 632.0C480.6 635.8 500.1 630.9 520.2 627.4C540.2 623.8 561.9 618.5 581.1 610.6C600.2 602.7 615.5 583.5 635.2 580.1C654.9 576.7 688.8 588.5 699.5 590.2" stroke="#63c9cb" stroke-width="0.90" stroke-dasharray="0.6,1.6"/>
<path d="M56.6 581.3C66.2 581.3 94.4 580.9 114.1 581.5C133.8 582.0 155.8 583.6 175.0 584.7C194.2 585.9 210.0 588.7 229.2 588.5C248.3 588.4 270.9 583.2 290.1 583.9C309.2 584.7 325.8 588.0 344.2 593.0C362.6 598.1 381.0 606.1 400.4 614.2C419.8 622.3 440.6 638.0 460.6 641.8C480.6 645.7 500.1 641.2 520.2 637.2C540.2 633.2 561.9 624.4 581.1 617.8C600.2 611.2 615.5 601.3 635.2 597.8C654.9 594.3 688.8 596.9 699.5 596.8" stroke="#b46774" stroke-width="0.90"/>
<path d="M56.6 583.0C66.2 582.7 94.4 580.7 114.1 581.4C133.8 582.2 155.8 587.6 175.0 587.4C194.2 587.2 210.0 580.7 229.2 580.2C248.3 579.6 270.9 582.3 290.1 583.9C309.2 585.6 325.8 586.7 344.2 590.1C362.6 593.5 381.0 598.2 400.4 604.3C419.8 610.5 440.6 622.4 460.6 627.0C480.6 631.7 500.1 633.0 520.2 632.3C540.2 631.6 561.9 627.6 581.1 622.7C600.2 617.7 615.5 605.1 635.2 602.7C654.9 600.2 688.8 607.1 699.5 608.0" stroke="#7dba73" stroke-width="0.90" stroke-dasharray="2,2"/>
<path d="M56.6 584.9C66.2 585.5 94.4 588.0 114.1 588.9C133.8 589.7 155.8 588.9 175.0 590.0C194.2 591.1 210.0 595.2 229.2 595.6C248.3 596.0 270.9 590.9 290.1 592.2C309.2 593.4 325.8 597.1 344.2 603.2C362.6 609.4 381.0 620.9 400.4 629.0C419.8 637.1 440.6 647.0 460.6 651.7C480.6 656.4 500.1 658.1 520.2 657.0C540.2 655.8 561.9 651.4 581.1 644.8C600.2 638.3 615.5 624.5 635.2 617.6C654.9 610.7 688.8 605.7 699.5 603.4" stroke="#000000" stroke-width="0.90" stroke-dasharray="2,2"/>
<path d="M56.6 586.8C66.2 587.5 94.4 589.6 114.1 590.5C133.8 591.5 155.8 592.4 175.0 592.6C194.2 592.9 210.0 592.6 229.2 592.1C248.3 591.7 270.9 588.2 290.1 589.7C309.2 591.3 325.8 595.0 344.2 601.5C362.6 608.1 381.0 619.8 400.4 629.0C419.8 638.2 440.6 651.2 460.6 656.6C480.6 662.1 500.1 665.0 520.2 661.9C540.2 658.8 561.9 644.3 581.1 637.8C600.2 631.3 615.5 627.9 635.2 622.9C654.9 617.9 688.8 610.4 699.5 608.0" stroke="#992e90" stroke-width="0.90" stroke-dasharray="2,2"/>
<path d="M56.6 588.8C66.2 589.2 94.4 590.3 114.1 591.4C133.8 592.4 155.8 593.6 175.0 595.3C194.2 596.9 210.0 599.9 229.2 601.4C248.3 602.9 270.9 602.7 290.1 604.5C309.2 606.2 325.8 607.7 344.2 611.8C362.6 615.9 381.0 620.7 400.4 629.0C419.8 637.3 440.6 656.9 460.6 661.6C480.6 666.2 500.1 660.6 520.2 657.0C540.2 653.4 561.9 645.6 581.1 640.0C600.2 634.3 615.5 628.2 635.2 622.9C654.9 617.6 688.8 610.4 699.5 608.0" stroke="#9e9e9e" stroke-width="0.90" stroke-dasharray="0.6,1.6"/>
<path d="M56.6 590.8C66.2 591.2 94.4 591.8 114.1 593.0C133.8 594.2 155.8 595.7 175.0 597.9C194.2 600.1 210.0 603.6 229.2 606.0C248.3 608.5 270.9 609.4 290.1 612.7C309.2 616.0 325.8 618.4 344.2 625.6C362.6 632.7 381.0 647.2 400.4 655.7C419.8 664.1 440.6 675.3 460.6 676.4C480.6 677.4 500.1 666.8 520.2 661.9C540.2 657.0 561.9 652.6 581.1 646.8C600.2 641.1 615.5 633.2 635.2 627.5C654.9 621.8 688.8 615.3 699.5 612.9" stroke="#4b8bb7" stroke-width="0.90"/>
<path d="M56.6 593.9C66.2 594.3 94.4 594.5 114.1 596.2C133.8 597.9 155.8 603.6 175.0 604.1C194.2 604.6 210.0 599.0 229.2 599.1C248.3 599.2 270.9 602.4 290.1 604.5C309.2 606.6 325.8 607.7 344.2 611.8C362.6 615.9 381.0 622.4 400.4 629.0C419.8 635.7 440.6 650.3 460.6 651.7C480.6 653.1 500.1 642.9 520.2 637.2C540.2 631.5 561.9 622.5 581.1 617.6C600.2 612.6 615.5 608.4 635.2 607.6C654.9 606.9 688.8 612.0 699.5 612.9" stroke="#63c9cb" stroke-width="0.90" stroke-dasharray="3.5,1.5"/>
<path d="M56.6 597.6C66.2 599.2 94.4 604.6 114.1 606.9C133.8 609.2 155.8 609.6 175.0 611.6C194.2 613.5 210.0 617.7 229.2 618.6C248.3 619.5 270.9 616.4 290.1 617.0C309.2 617.6 325.8 619.2 344.2 622.1C362.6 624.9 381.0 629.0 400.4 633.9C419.8 638.9 440.6 649.5 460.6 651.7C480.6 653.9 500.1 651.0 520.2 647.1C540.2 643.3 561.9 631.9 581.1 628.6C600.2 625.3 615.5 628.5 635.2 627.5C654.9 626.5 688.8 623.6 699.5 622.8" stroke="#ddc45f" stroke-width="0.90" stroke-dasharray="0.6,1.6,2,1.6"/>
<path d="M56.6 600.3C66.2 600.9 94.4 601.9 114.1 604.4C133.8 606.8 155.8 614.0 175.0 614.9C194.2 615.7 210.0 609.8 229.2 609.4C248.3 609.1 270.9 610.3 290.1 612.7C309.2 615.1 325.8 617.5 344.2 623.6C362.6 629.7 381.0 638.6 400.4 649.1C419.8 659.5 440.6 679.2 460.6 686.2C480.6 693.3 500.1 695.4 520.2 691.5C540.2 687.7 561.9 671.4 581.1 663.1C600.2 654.9 615.5 644.8 635.2 642.2C654.9 639.6 688.8 646.6 699.5 647.4" stroke="#000000" stroke-width="0.90" stroke-dasharray="1,1,3,1"/>
<path d="M56.6 602.9C66.2 604.9 94.4 612.2 114.1 614.8C133.8 617.3 155.8 618.4 175.0 618.2C194.2 617.9 210.0 614.0 229.2 613.0C248.3 612.1 270.9 609.4 290.1 612.7C309.2 616.0 325.8 621.7 344.2 632.9C362.6 644.1 381.0 670.5 400.4 680.1C419.8 689.7 440.6 691.1 460.6 690.5C480.6 690.0 500.1 682.5 520.2 676.7C540.2 670.9 561.9 662.3 581.1 655.7C600.2 649.1 615.5 642.7 635.2 637.2C654.9 631.7 688.8 625.2 699.5 622.8" stroke="#b46774" stroke-width="0.90" stroke-dasharray="0.6,1.6"/>
<path d="M56.6 606.3C66.2 608.2 94.4 615.0 114.1 617.6C133.8 620.1 155.8 620.5 175.0 621.4C194.2 622.4 210.0 623.2 229.2 623.0C248.3 622.8 270.9 618.3 290.1 620.2C309.2 622.1 325.8 626.6 344.2 634.7C362.6 642.8 381.0 658.1 400.4 668.5C419.8 678.9 440.6 690.8 460.6 697.1C480.6 703.4 500.1 707.5 520.2 706.3C540.2 705.1 561.9 693.8 581.1 689.9C600.2 686.1 615.5 683.7 635.2 683.3C654.9 682.8 688.8 686.6 699.5 687.2" stroke="#7dba73" stroke-width="0.90"/>
<path d="M56.6 610.9C66.2 612.0 94.4 615.2 114.1 617.5C133.8 619.8 155.8 623.4 175.0 624.7C194.2 626.1 210.0 623.5 229.2 625.6C248.3 627.8 270.9 634.0 290.1 637.5C309.2 641.0 325.8 641.6 344.2 646.8C362.6 652.0 381.0 660.7 400.4 668.5C419.8 676.4 440.6 690.0 460.6 693.8C480.6 697.6 500.1 693.6 520.2 691.5C540.2 689.4 561.9 687.5 581.1 681.0C600.2 674.4 615.5 656.0 635.2 652.0C654.9 648.1 688.8 656.4 699.5 657.3" stroke="#63c9cb" stroke-width="0.90" stroke-dasharray="2,2"/>
<path d="M56.6 615.9C66.2 617.6 94.4 624.2 114.1 626.3C133.8 628.3 155.8 627.2 175.0 628.0C194.2 628.8 210.0 630.3 229.2 631.0C248.3 631.6 270.9 629.4 290.1 632.0C309.2 634.5 325.8 638.4 344.2 646.4C362.6 654.4 381.0 672.2 400.4 680.1C419.8 688.0 440.6 691.9 460.6 693.8C480.6 695.7 500.1 693.3 520.2 691.5C540.2 689.7 561.9 685.7 581.1 683.2C600.2 680.8 615.5 681.0 635.2 676.7C654.9 672.4 688.8 660.5 699.5 657.3" stroke="#992e90" stroke-width="0.90" stroke-dasharray="0.6,1.6,2,1.6"/>
<path d="M56.6 620.4C66.2 621.9 94.4 627.9 114.1 629.7C133.8 631.5 155.8 630.0 175.0 631.3C194.2 632.6 210.0 636.4 229.2 637.4C248.3 638.4 270.9 635.9 290.1 637.5C309.2 639.1 325.8 641.6 344.2 646.8C362.6 652.0 381.0 662.8 400.4 668.5C419.8 674.3 440.6 681.6 460.6 681.3C480.6 681.0 500.1 672.2 520.2 666.8C540.2 661.5 561.9 654.3 581.1 649.3C600.2 644.4 615.5 638.4 635.2 637.2C654.9 636.1 688.8 641.6 699.5 642.5" stroke="#9e9e9e" stroke-width="0.90" stroke-dasharray="3.5,1.5"/>
<path d="M56.6 624.6C66.2 625.6 94.4 628.8 114.1 630.5C133.8 632.2 155.8 633.5 175.0 634.9C194.2 636.3 210.0 636.9 229.2 638.9C248.3 640.9 270.9 643.3 290.1 647.0C309.2 650.6 325.8 653.1 344.2 660.8C362.6 668.5 381.0 686.4 400.4 693.2C419.8 699.9 440.6 700.0 460.6 701.4C480.6 702.7 500.1 705.0 520.2 701.4C540.2 697.8 561.9 687.9 581.1 679.7C600.2 671.5 615.5 655.8 635.2 652.0C654.9 648.3 688.8 656.4 699.5 657.3" stroke="#000000" stroke-width="0.90" stroke-dasharray="0.6,1.6"/>
<path d="M56.6 628.6C66.2 628.8 94.4 628.0 114.1 629.9C133.8 631.8 155.8 637.6 175.0 639.9C194.2 642.1 210.0 643.0 229.2 643.5C248.3 644.1 270.9 641.3 290.1 643.0C309.2 644.8 325.8 648.0 344.2 654.1C362.6 660.3 381.0 672.9 400.4 680.1C419.8 687.2 440.6 692.7 460.6 697.1C480.6 701.5 500.1 704.7 520.2 706.3C540.2 707.9 561.9 708.4 581.1 706.8C600.2 705.2 615.5 701.9 635.2 696.4C654.9 691.0 688.8 677.8 699.5 674.1" stroke="#4b8bb7" stroke-width="0.90" stroke-dasharray="0.6,1.6,2,1.6"/>
<path d="M56.6 632.5C66.2 633.2 94.4 635.0 114.1 636.9C133.8 638.7 155.8 642.3 175.0 643.5C194.2 644.7 210.0 643.4 229.2 644.0C248.3 644.6 270.9 643.8 290.1 647.0C309.2 650.2 325.8 654.2 344.2 663.3C362.6 672.4 381.0 692.6 400.4 701.4C419.8 710.2 440.6 715.4 460.6 716.2C480.6 717.0 500.1 709.2 520.2 706.3C540.2 703.4 561.9 703.6 581.1 698.7C600.2 693.8 615.5 681.9 635.2 676.7C654.9 671.5 688.8 669.0 699.5 667.5" stroke="#ddc45f" stroke-width="0.90"/>
<path d="M56.6 636.6C66.2 637.6 94.4 641.0 114.1 642.7C133.8 644.4 155.8 645.0 175.0 646.8C194.2 648.5 210.0 652.0 229.2 653.1C248.3 654.1 270.9 649.1 290.1 653.0C309.2 656.9 325.8 663.4 344.2 676.3C362.6 689.2 381.0 722.4 400.4 730.6C419.8 738.9 440.6 726.8 460.6 726.0C480.6 725.3 500.1 728.5 520.2 726.0C540.2 723.6 561.9 718.3 581.1 711.2C600.2 704.1 615.5 687.3 635.2 683.3C654.9 679.3 688.8 686.6 699.5 687.2" stroke="#63c9cb" stroke-width="0.90" stroke-dasharray="1,1,3,1"/>
<path d="M56.6 640.9C66.2 641.0 94.4 640.3 114.1 641.8C133.8 643.3 155.8 648.3 175.0 650.1C194.2 651.8 210.0 650.1 229.2 652.3C248.3 654.4 270.9 658.3 290.1 663.0C309.2 667.6 325.8 670.7 344.2 680.3C362.6 689.9 381.0 713.2 400.4 720.8C419.8 728.4 440.6 726.8 460.6 726.0C480.6 725.3 500.1 721.3 520.2 716.2C540.2 711.0 561.9 702.8 581.1 695.1C600.2 687.4 615.5 677.3 635.2 670.1C654.9 663.0 688.8 655.3 699.5 652.4" stroke="#b46774" stroke-width="0.90" stroke-dasharray="3.5,1.5"/>
<path d="M56.6 610.9C66.2 611.7 94.4 614.0 114.1 615.5C133.8 617.1 154.7 618.6 175.0 620.1C195.3 621.7 216.7 623.2 235.9 624.7C255.1 626.3 272.0 627.8 290.1 629.3C308.1 630.9 325.1 632.4 344.2 633.9C363.3 635.5 384.6 635.9 404.4 638.5C424.3 641.2 446.3 648.1 463.3 650.1C480.3 652.0 492.9 651.4 506.6 650.1C520.4 648.7 532.9 648.8 545.9 641.8C558.8 634.7 574.7 617.0 584.4 607.7C594.1 598.4 598.0 592.5 604.1 586.1C610.2 579.6 614.7 572.5 621.0 569.0C627.3 565.5 634.3 562.0 642.0 564.9C649.6 567.7 658.6 579.7 667.0 586.1C675.5 592.4 687.3 599.7 692.7 603.1C698.1 606.5 698.4 605.8 699.5 606.3" stroke="#992e90" stroke-width="0.90"/>
<path d="M56.6 633.9C65.0 635.5 88.4 637.9 107.3 643.2C126.3 648.5 150.0 658.0 170.3 665.7C190.6 673.4 209.2 680.7 229.2 689.2C249.1 697.7 276.5 708.6 290.1 716.8C303.6 725.0 304.0 732.3 310.4 738.5C316.7 744.6 321.6 745.8 328.0 753.7C334.3 761.6 341.0 774.4 348.3 785.9C355.5 797.4 363.5 812.4 371.3 822.8C379.1 833.1 387.1 841.3 395.0 848.1C402.9 854.8 409.6 859.7 418.6 863.3C427.7 866.9 439.5 870.3 449.1 869.7C458.7 869.1 467.7 864.0 476.2 859.6C484.6 855.2 491.6 848.0 499.9 843.5C508.1 838.9 515.9 838.6 525.6 832.4C535.3 826.3 545.5 817.3 558.1 806.6C570.6 796.0 587.8 780.5 600.7 768.4C613.5 756.4 623.8 742.9 635.2 734.3C646.6 725.7 658.3 721.3 669.0 716.8C679.8 712.4 694.4 709.2 699.5 707.6" stroke="#63c9cb" stroke-width="0.99" stroke-dasharray="2,2"/>
<path d="M56.6 652.4C67.3 653.5 101.1 657.7 120.9 659.3C140.6 660.8 155.8 661.6 175.0 661.6C194.2 661.6 216.7 659.3 235.9 659.3C255.1 659.3 273.1 657.4 290.1 661.6C307.0 665.8 323.9 673.1 337.4 684.6C351.0 696.1 360.8 715.3 371.3 730.6C381.8 746.0 391.3 762.6 400.4 776.7C409.4 790.8 417.0 807.2 425.4 815.4C433.9 823.6 444.7 823.9 451.1 826.0C457.6 828.0 458.2 828.9 464.0 827.8C469.7 826.7 476.3 823.7 485.6 819.5C495.0 815.3 508.1 809.6 520.2 802.5C532.2 795.4 544.6 785.3 558.1 776.7C571.5 768.1 587.8 758.6 600.7 750.9C613.5 743.2 623.8 737.9 635.2 730.6C646.6 723.4 658.3 715.3 669.0 707.6C679.8 700.0 694.4 688.4 699.5 684.6" stroke="#ddc45f" stroke-width="0.99"/>
<path d="M56.6 555.7C66.2 556.0 94.4 557.2 114.1 558.0C133.8 558.7 155.8 561.0 175.0 560.3C194.2 559.5 210.8 556.4 229.2 553.4C247.5 550.3 268.9 545.5 285.3 541.8C301.8 538.2 315.9 533.6 328.0 531.3C340.0 529.0 347.8 527.0 357.7 528.0C367.7 529.1 379.6 532.6 387.5 537.7C395.4 542.8 397.7 552.1 405.1 558.9C412.6 565.7 423.2 574.6 432.2 578.7C441.2 582.8 445.7 583.3 459.2 583.3C472.8 583.3 496.5 582.5 513.4 578.7C530.3 574.8 546.1 566.4 560.8 560.3C575.4 554.1 589.0 546.3 601.4 541.8C613.8 537.4 623.9 534.7 635.2 533.6C646.5 532.4 658.3 532.8 669.0 534.9C679.8 537.1 694.4 544.5 699.5 546.5" stroke="#63c9cb" stroke-width="0.99"/>
<path d="M56.6 593.4C65.0 594.3 93.2 597.1 107.3 598.5C121.4 599.9 129.8 600.6 141.2 601.7C152.6 602.9 164.4 604.8 175.7 605.4C187.0 606.0 197.7 605.5 208.8 605.4C220.0 605.2 229.9 604.6 242.7 604.5C255.4 604.3 272.6 603.9 285.3 604.5C298.1 605.1 309.2 605.7 319.2 608.2C329.1 610.6 336.3 614.6 344.9 619.2C353.4 623.8 363.5 630.9 370.6 635.8C377.7 640.7 381.8 644.0 387.5 648.7C393.3 653.4 398.8 659.0 405.1 663.9C411.4 668.7 418.6 674.1 425.4 677.7C432.2 681.3 439.8 683.9 445.7 685.5C451.6 687.1 455.0 687.2 460.6 687.4C466.2 687.5 470.4 687.9 479.6 686.4C488.7 685.0 502.3 682.8 515.4 678.6C528.5 674.5 543.8 668.0 558.1 661.6C572.3 655.1 586.6 647.1 600.7 639.9C614.8 632.8 630.0 624.4 642.6 618.7C655.3 613.1 667.0 609.4 676.5 605.9C686.0 602.3 695.7 598.9 699.5 597.6" stroke="#1e1e1e" stroke-width="1.98"/>
</g>
<g fill="none" stroke-width="0.75">
<circle cx="75.5" cy="500.4" r="2.4" stroke="#ddc45f"/>
<circle cx="688.7" cy="500.4" r="2.4" stroke="#ddc45f"/>
<circle cx="690.7" cy="500.4" r="2.4" stroke="#ddc45f"/>
<circle cx="90.4" cy="500.4" r="2.4" stroke="#63c9cb"/>
<circle cx="93.8" cy="500.4" r="2.4" stroke="#63c9cb"/>
<circle cx="115.5" cy="500.4" r="2.4" stroke="#63c9cb"/>
<circle cx="135.1" cy="500.4" r="2.4" stroke="#63c9cb"/>
<circle cx="183.8" cy="500.4" r="2.4" stroke="#63c9cb"/>
<circle cx="222.4" cy="500.4" r="2.4" stroke="#63c9cb"/>
<circle cx="318.5" cy="500.4" r="2.4" stroke="#63c9cb"/>
<circle cx="328.0" cy="500.4" r="2.4" stroke="#63c9cb"/>
<circle cx="336.1" cy="500.4" r="2.4" stroke="#63c9cb"/>
<circle cx="378.0" cy="500.4" r="2.4" stroke="#63c9cb"/>
<circle cx="662.9" cy="500.4" r="2.4" stroke="#63c9cb"/>
<circle cx="99.9" cy="500.4" r="2.4" stroke="#000000"/>
<circle cx="101.9" cy="500.4" r="2.4" stroke="#000000"/>
<circle cx="118.2" cy="500.4" r="2.4" stroke="#000000"/>
<circle cx="190.6" cy="500.4" r="2.4" stroke="#000000"/>
<circle cx="288.0" cy="500.4" r="2.4" stroke="#000000"/>
<circle cx="289.4" cy="500.4" r="2.4" stroke="#000000"/>
<circle cx="362.5" cy="500.4" r="2.4" stroke="#000000"/>
<circle cx="368.6" cy="500.4" r="2.4" stroke="#000000"/>
<circle cx="668.4" cy="500.4" r="2.4" stroke="#000000"/>
<circle cx="145.2" cy="500.4" r="2.4" stroke="#9e9e9e"/>
<circle cx="322.5" cy="500.4" r="2.4" stroke="#9e9e9e"/>
<circle cx="670.4" cy="500.4" r="2.4" stroke="#9e9e9e"/>
<circle cx="676.5" cy="500.4" r="2.4" stroke="#9e9e9e"/>
<circle cx="158.8" cy="500.4" r="2.4" stroke="#992e90"/>
<circle cx="679.9" cy="500.4" r="2.4" stroke="#992e90"/>
<circle cx="174.3" cy="500.4" r="2.4" stroke="#7dba73"/>
<circle cx="173.7" cy="500.4" r="2.4" stroke="#7dba73"/>
<circle cx="331.3" cy="500.4" r="2.4" stroke="#ddc45f"/>
<circle cx="359.8" cy="500.4" r="2.4" stroke="#b46774"/>
<circle cx="673.1" cy="500.4" r="2.4" stroke="#4b8bb7"/>
<circle cx="87.0" cy="546.5" r="2.4" stroke="#63c9cb"/>
<circle cx="167.6" cy="546.5" r="2.4" stroke="#63c9cb"/>
<circle cx="212.2" cy="546.5" r="2.4" stroke="#63c9cb"/>
<circle cx="657.5" cy="546.5" r="2.4" stroke="#63c9cb"/>
<circle cx="689.3" cy="546.5" r="2.4" stroke="#63c9cb"/>
<circle cx="694.1" cy="546.5" r="2.4" stroke="#63c9cb"/>
<circle cx="93.1" cy="546.5" r="2.4" stroke="#b46774"/>
<circle cx="107.3" cy="546.5" r="2.4" stroke="#000000"/>
<circle cx="637.9" cy="546.5" r="2.4" stroke="#000000"/>
<circle cx="144.6" cy="546.5" r="2.4" stroke="#7dba73"/>
<circle cx="146.6" cy="546.5" r="2.4" stroke="#7dba73"/>
<circle cx="306.3" cy="546.5" r="2.4" stroke="#7dba73"/>
<circle cx="355.7" cy="546.5" r="2.4" stroke="#7dba73"/>
<circle cx="315.1" cy="546.5" r="2.4" stroke="#9e9e9e"/>
<circle cx="664.3" cy="546.5" r="2.4" stroke="#9e9e9e"/>
<circle cx="319.2" cy="546.5" r="2.4" stroke="#992e90"/>
<circle cx="331.3" cy="546.5" r="2.4" stroke="#992e90"/>
<circle cx="670.4" cy="546.5" r="2.4" stroke="#992e90"/>
<circle cx="674.5" cy="546.5" r="2.4" stroke="#992e90"/>
<circle cx="681.2" cy="546.5" r="2.4" stroke="#992e90"/>
<circle cx="358.4" cy="546.5" r="2.4" stroke="#ddc45f"/>
<circle cx="653.5" cy="546.5" r="2.4" stroke="#4b8bb7"/>
<circle cx="185.2" cy="592.5" r="2.4" stroke="#000000"/>
<circle cx="198.0" cy="592.5" r="2.4" stroke="#000000"/>
<circle cx="208.2" cy="592.5" r="2.4" stroke="#000000"/>
<circle cx="220.4" cy="592.5" r="2.4" stroke="#000000"/>
<circle cx="336.1" cy="592.5" r="2.4" stroke="#000000"/>
<circle cx="353.0" cy="592.5" r="2.4" stroke="#000000"/>
<circle cx="356.4" cy="592.5" r="2.4" stroke="#000000"/>
<circle cx="239.3" cy="592.5" r="2.4" stroke="#992e90"/>
<circle cx="313.1" cy="592.5" r="2.4" stroke="#992e90"/>
<circle cx="248.1" cy="592.5" r="2.4" stroke="#b46774"/>
<circle cx="262.3" cy="592.5" r="2.4" stroke="#ddc45f"/>
<circle cx="363.8" cy="592.5" r="2.4" stroke="#ddc45f"/>
<circle cx="672.4" cy="592.5" r="2.4" stroke="#ddc45f"/>
<circle cx="322.5" cy="592.5" r="2.4" stroke="#9e9e9e"/>
<circle cx="359.8" cy="592.5" r="2.4" stroke="#9e9e9e"/>
<circle cx="384.1" cy="592.5" r="2.4" stroke="#9e9e9e"/>
<circle cx="655.5" cy="592.5" r="2.4" stroke="#9e9e9e"/>
<circle cx="636.6" cy="592.5" r="2.4" stroke="#7dba73"/>
<circle cx="659.6" cy="592.5" r="2.4" stroke="#7dba73"/>
<circle cx="664.3" cy="592.5" r="2.4" stroke="#63c9cb"/>
<circle cx="668.4" cy="592.5" r="2.4" stroke="#63c9cb"/>
<circle cx="60.0" cy="638.5" r="2.4" stroke="#9e9e9e"/>
<circle cx="103.3" cy="638.5" r="2.4" stroke="#9e9e9e"/>
<circle cx="117.5" cy="638.5" r="2.4" stroke="#9e9e9e"/>
<circle cx="91.8" cy="638.5" r="2.4" stroke="#b46774"/>
<circle cx="137.1" cy="638.5" r="2.4" stroke="#b46774"/>
<circle cx="144.6" cy="638.5" r="2.4" stroke="#b46774"/>
<circle cx="151.3" cy="638.5" r="2.4" stroke="#b46774"/>
<circle cx="351.0" cy="638.5" r="2.4" stroke="#b46774"/>
<circle cx="659.6" cy="638.5" r="2.4" stroke="#b46774"/>
<circle cx="679.9" cy="638.5" r="2.4" stroke="#b46774"/>
<circle cx="97.2" cy="638.5" r="2.4" stroke="#ddc45f"/>
<circle cx="203.4" cy="638.5" r="2.4" stroke="#ddc45f"/>
<circle cx="655.5" cy="638.5" r="2.4" stroke="#ddc45f"/>
<circle cx="127.0" cy="638.5" r="2.4" stroke="#63c9cb"/>
<circle cx="164.2" cy="638.5" r="2.4" stroke="#63c9cb"/>
<circle cx="668.4" cy="638.5" r="2.4" stroke="#63c9cb"/>
<circle cx="177.7" cy="638.5" r="2.4" stroke="#4b8bb7"/>
<circle cx="190.6" cy="638.5" r="2.4" stroke="#992e90"/>
<circle cx="357.7" cy="638.5" r="2.4" stroke="#992e90"/>
<circle cx="365.9" cy="638.5" r="2.4" stroke="#992e90"/>
<circle cx="665.0" cy="638.5" r="2.4" stroke="#992e90"/>
<circle cx="313.7" cy="638.5" r="2.4" stroke="#000000"/>
<circle cx="685.3" cy="638.5" r="2.4" stroke="#000000"/>
<circle cx="694.1" cy="638.5" r="2.4" stroke="#000000"/>
<circle cx="64.7" cy="684.6" r="2.4" stroke="#ddc45f"/>
<circle cx="156.1" cy="684.6" r="2.4" stroke="#ddc45f"/>
<circle cx="194.6" cy="684.6" r="2.4" stroke="#ddc45f"/>
<circle cx="340.8" cy="684.6" r="2.4" stroke="#ddc45f"/>
<circle cx="346.9" cy="684.6" r="2.4" stroke="#ddc45f"/>
<circle cx="370.6" cy="684.6" r="2.4" stroke="#ddc45f"/>
<circle cx="685.3" cy="684.6" r="2.4" stroke="#ddc45f"/>
<circle cx="688.7" cy="684.6" r="2.4" stroke="#ddc45f"/>
<circle cx="78.9" cy="684.6" r="2.4" stroke="#7dba73"/>
<circle cx="83.0" cy="684.6" r="2.4" stroke="#7dba73"/>
<circle cx="147.3" cy="684.6" r="2.4" stroke="#7dba73"/>
<circle cx="337.4" cy="684.6" r="2.4" stroke="#7dba73"/>
<circle cx="389.5" cy="684.6" r="2.4" stroke="#7dba73"/>
<circle cx="97.2" cy="684.6" r="2.4" stroke="#000000"/>
<circle cx="286.7" cy="684.6" r="2.4" stroke="#000000"/>
<circle cx="287.4" cy="684.6" r="2.4" stroke="#000000"/>
<circle cx="358.4" cy="684.6" r="2.4" stroke="#000000"/>
<circle cx="694.1" cy="684.6" r="2.4" stroke="#000000"/>
<circle cx="134.4" cy="684.6" r="2.4" stroke="#992e90"/>
<circle cx="189.2" cy="684.6" r="2.4" stroke="#992e90"/>
<circle cx="325.9" cy="684.6" r="2.4" stroke="#992e90"/>
<circle cx="330.0" cy="684.6" r="2.4" stroke="#992e90"/>
<circle cx="658.2" cy="684.6" r="2.4" stroke="#992e90"/>
<circle cx="152.7" cy="684.6" r="2.4" stroke="#b46774"/>
<circle cx="334.0" cy="684.6" r="2.4" stroke="#b46774"/>
<circle cx="239.3" cy="684.6" r="2.4" stroke="#9e9e9e"/>
<circle cx="352.3" cy="684.6" r="2.4" stroke="#9e9e9e"/>
<circle cx="393.6" cy="684.6" r="2.4" stroke="#9e9e9e"/>
<circle cx="297.5" cy="684.6" r="2.4" stroke="#63c9cb"/>
<circle cx="300.2" cy="684.6" r="2.4" stroke="#63c9cb"/>
<circle cx="670.4" cy="730.6" r="2.4" stroke="#ddc45f"/>
<circle cx="681.2" cy="730.6" r="2.4" stroke="#b46774"/>
<circle cx="68.1" cy="776.7" r="2.4" stroke="#ddc45f"/>
<circle cx="662.9" cy="776.7" r="2.4" stroke="#ddc45f"/>
<circle cx="679.9" cy="776.7" r="2.4" stroke="#63c9cb"/>
<circle cx="365.9" cy="822.8" r="2.4" stroke="#63c9cb"/>
<circle cx="687.3" cy="822.8" r="2.4" stroke="#992e90"/>
<circle cx="292.8" cy="868.8" r="2.4" stroke="#ddc45f"/>
</g>
<rect x="56.8" y="479.9" width="642.8" height="407.3" fill="none" stroke="#444" stroke-width="1.1"/>
<line x1="73.5" y1="887.2" x2="73.5" y2="893.7" stroke="#444" stroke-width="1"/>
<text x="73.5" y="909.4" text-anchor="middle" class="t">40</text>
<line x1="208.8" y1="887.2" x2="208.8" y2="893.7" stroke="#444" stroke-width="1"/>
<text x="208.8" y="909.4" text-anchor="middle" class="t">60</text>
<line x1="344.2" y1="887.2" x2="344.2" y2="893.7" stroke="#444" stroke-width="1"/>
<text x="344.2" y="909.4" text-anchor="middle" class="t">80</text>
<line x1="479.6" y1="887.2" x2="479.6" y2="893.7" stroke="#444" stroke-width="1"/>
<text x="479.6" y="909.4" text-anchor="middle" class="t">100</text>
<line x1="614.9" y1="887.2" x2="614.9" y2="893.7" stroke="#444" stroke-width="1"/>
<text x="614.9" y="909.4" text-anchor="middle" class="t">120</text>
<line x1="50.3" y1="868.8" x2="56.8" y2="868.8" stroke="#444" stroke-width="1"/>
<text x="42.3" y="868.8" text-anchor="middle" class="t" transform="rotate(-90 42.3 868.8)">2</text>
<line x1="50.3" y1="776.7" x2="56.8" y2="776.7" stroke="#444" stroke-width="1"/>
<text x="42.3" y="776.7" text-anchor="middle" class="t" transform="rotate(-90 42.3 776.7)">4</text>
<line x1="50.3" y1="684.6" x2="56.8" y2="684.6" stroke="#444" stroke-width="1"/>
<text x="42.3" y="684.6" text-anchor="middle" class="t" transform="rotate(-90 42.3 684.6)">6</text>
<line x1="50.3" y1="592.5" x2="56.8" y2="592.5" stroke="#444" stroke-width="1"/>
<text x="42.3" y="592.5" text-anchor="middle" class="t" transform="rotate(-90 42.3 592.5)">8</text>
<line x1="50.3" y1="500.4" x2="56.8" y2="500.4" stroke="#444" stroke-width="1"/>
<text x="42.3" y="500.4" text-anchor="middle" class="t" transform="rotate(-90 42.3 500.4)">10</text>
<text x="17.3" y="683.5" text-anchor="middle" class="t" transform="rotate(-90 17.3 683.5)">ADOS</text>
<text x="378.2" y="934.3" text-anchor="middle" class="t">Age Months</text>
</g></svg></body></html>
